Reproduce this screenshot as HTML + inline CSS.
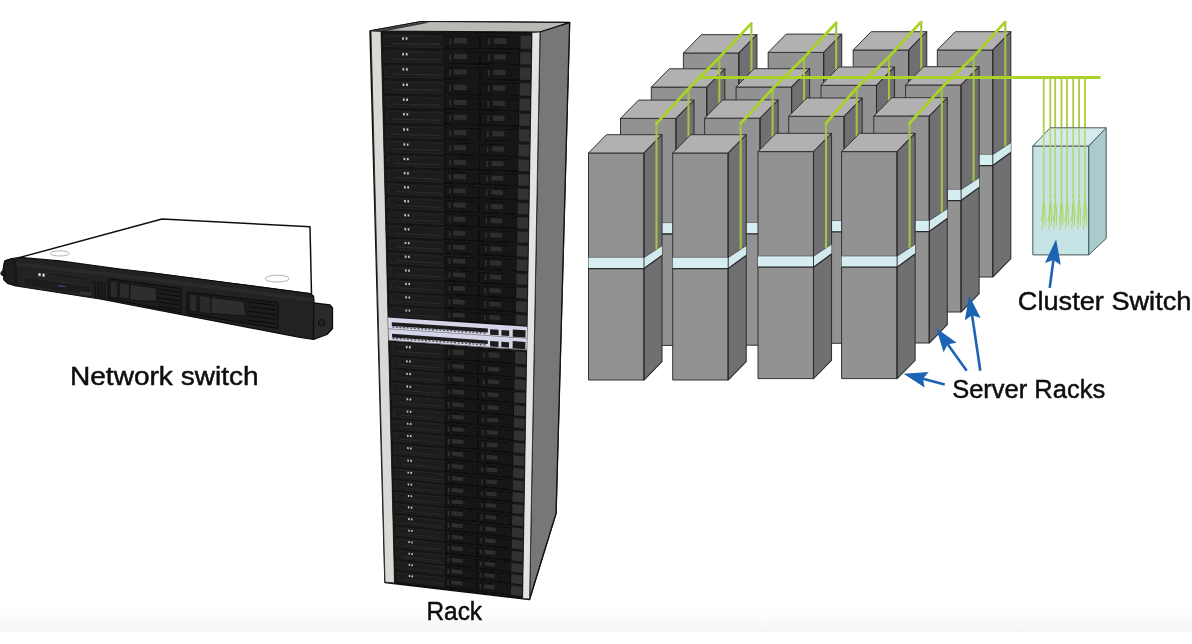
<!DOCTYPE html>
<html><head><meta charset="utf-8"><style>
html,body{margin:0;padding:0;background:#fff;}
body{width:1192px;height:644px;overflow:hidden;font-family:"Liberation Sans",sans-serif;}
svg{display:block;}
</style></head><body>
<svg width="1192" height="644" viewBox="0 0 1192 644">
<defs><filter id="soft" x="0" y="0" width="1" height="1"><feGaussianBlur stdDeviation="0.45"/></filter><linearGradient id="band" x1="0" y1="0" x2="0" y2="1"><stop offset="0" stop-color="#fff"/><stop offset="1" stop-color="#f6f6f6"/></linearGradient></defs>
<rect width="1192" height="644" fill="#fff"/>
<g filter="url(#soft)">
<rect x="0" y="606" width="1192" height="26" fill="url(#band)"/>
<polygon points="20.0,257.4 162.0,219.0 310.0,226.8 311.5,294.0 150.0,273.0 20.0,259.0" fill="#ffffff" stroke="#111" stroke-width="1.5" stroke-linejoin="round" />
<ellipse cx="59.8" cy="253.4" rx="9.5" ry="2.6" fill="none" stroke="#aaa" stroke-width="0.9"/>
<ellipse cx="277.2" cy="278.6" rx="12" ry="3.4" fill="none" stroke="#aaa" stroke-width="0.9"/>
<polygon points="4.7,260.9 12.0,258.5 20.0,257.4 60.0,260.9 120.0,269.0 150.0,272.5 230.0,283.0 310.0,293.5 313.5,296.0 314.0,300.0 313.5,339.5 300.0,337.3 200.0,318.2 100.0,299.0 16.0,286.0 8.0,283.5 4.0,280.0 3.0,270.0" fill="#222" stroke="#0d0d0d" stroke-width="1.2" stroke-linejoin="round" />
<polygon points="4.7,260.9 12.0,258.5 16.0,262.0 16.0,286.0 8.0,283.5 4.0,280.0 3.0,270.0" fill="#1a1a1a" stroke="#0d0d0d" stroke-width="0.8" stroke-linejoin="round" />
<circle cx="3.2" cy="273.3" r="2.4" fill="#1a1a1a" stroke="#0d0d0d" stroke-width="0.8"/>
<polygon points="313.7,302.8 330.0,305.0 332.5,308.0 332.5,328.5 327.0,334.5 313.5,339.5" fill="#2a2a2a" stroke="#0d0d0d" stroke-width="1.3" stroke-linejoin="round" />
<circle cx="321.7" cy="322.8" r="3.3" fill="#222" stroke="#0d0d0d" stroke-width="1"/>
<polygon points="16.0,266.0 150.0,281.0 313.0,302.0 313.0,298.0 150.0,277.0 16.0,262.0" fill="#2a2a2a" />
<polygon points="24.0,277.0 91.0,286.0 91.0,295.5 24.0,286.0" fill="#1b1b1b" stroke="#333" stroke-width="0.6" stroke-linejoin="round" />
<polygon points="38.5,273.0 40.7,273.3 40.7,276.2 38.5,275.9" fill="#e0e0e0" />
<polygon points="42.5,273.5 44.7,273.8 44.7,276.7 42.5,276.4" fill="#e0e0e0" />
<polygon points="48.0,272.0 90.0,277.5 90.0,281.0 48.0,275.5" fill="#1d1d1d" stroke="#333" stroke-width="0.5" stroke-linejoin="round" />
<polygon points="58.0,285.0 66.0,286.0 66.0,287.3 58.0,286.3" fill="#3b4a7a" />
<polygon points="80.0,291.0 91.0,292.5 91.0,296.0 80.0,294.5" fill="#333" />
<polygon points="92.7,281.0 105.5,283.0 105.5,299.5 92.7,297.3" fill="#141414" />
<line x1="93.5" y1="282.0" x2="93.5" y2="297.5" stroke="#2b2b2b" stroke-width="0.8" />
<line x1="96.7" y1="282.5" x2="96.7" y2="298.0" stroke="#2b2b2b" stroke-width="0.8" />
<line x1="99.9" y1="283.0" x2="99.9" y2="298.5" stroke="#2b2b2b" stroke-width="0.8" />
<line x1="103.1" y1="283.5" x2="103.1" y2="299.0" stroke="#2b2b2b" stroke-width="0.8" />
<polygon points="108.4,278.6 181.0,288.5 181.0,312.8 108.4,298.5" fill="#1c1c1c" stroke="#0a0a0a" stroke-width="1" stroke-linejoin="round" />
<polygon points="110.5,281.0 117.5,282.0 117.5,298.0 110.5,297.0" fill="#2a2a2a" stroke="#0a0a0a" stroke-width="0.6" stroke-linejoin="round" />
<polygon points="119.5,282.5 130.0,284.0 130.0,299.5 119.5,298.0" fill="#2a2a2a" stroke="#0a0a0a" stroke-width="0.6" stroke-linejoin="round" />
<polygon points="130.0,284.5 156.0,288.0 157.0,301.5 130.0,300.0" fill="#2e2e2e" stroke="#0a0a0a" stroke-width="0.6" stroke-linejoin="round" />
<line x1="158.0" y1="289.0" x2="180.0" y2="292.2" stroke="#0a0a0a" stroke-width="1" />
<line x1="158.0" y1="293.3" x2="180.0" y2="296.5" stroke="#0a0a0a" stroke-width="1" />
<line x1="158.0" y1="297.6" x2="180.0" y2="300.8" stroke="#0a0a0a" stroke-width="1" />
<line x1="158.0" y1="301.9" x2="180.0" y2="305.1" stroke="#0a0a0a" stroke-width="1" />
<line x1="158.0" y1="306.2" x2="180.0" y2="309.4" stroke="#0a0a0a" stroke-width="1" />
<polygon points="187.2,292.0 278.0,302.5 278.0,328.5 187.2,313.5" fill="#1c1c1c" stroke="#0a0a0a" stroke-width="1" stroke-linejoin="round" />
<polygon points="189.7,294.0 196.8,295.0 196.8,312.0 189.7,311.0" fill="#2a2a2a" stroke="#0a0a0a" stroke-width="0.6" stroke-linejoin="round" />
<polygon points="199.7,295.5 211.0,297.0 211.0,314.0 199.7,312.5" fill="#2a2a2a" stroke="#0a0a0a" stroke-width="0.6" stroke-linejoin="round" />
<polygon points="211.0,297.5 244.0,301.5 246.0,316.0 211.0,313.5" fill="#2e2e2e" stroke="#0a0a0a" stroke-width="0.6" stroke-linejoin="round" />
<line x1="248.0" y1="302.0" x2="276.0" y2="305.5" stroke="#0a0a0a" stroke-width="1" />
<line x1="248.0" y1="306.6" x2="276.0" y2="310.1" stroke="#0a0a0a" stroke-width="1" />
<line x1="248.0" y1="311.2" x2="276.0" y2="314.7" stroke="#0a0a0a" stroke-width="1" />
<line x1="248.0" y1="315.8" x2="276.0" y2="319.3" stroke="#0a0a0a" stroke-width="1" />
<line x1="248.0" y1="320.4" x2="276.0" y2="323.9" stroke="#0a0a0a" stroke-width="1" />
<polygon points="370.0,31.0 422.0,21.5 569.6,22.5 556.0,513.3 529.5,599.5 385.0,582.5" fill="#111" stroke="#111" stroke-width="1.5" stroke-linejoin="round" />
<polygon points="370.0,31.0 422.0,21.5 569.0,22.5 540.0,32.0" fill="#b9b9b6" stroke="#111" stroke-width="1" stroke-linejoin="round" />
<polygon points="372.0,31.0 422.0,22.0 430.0,22.5 385.0,31.3" fill="#3a3a3a" />
<polygon points="540.0,32.0 569.6,22.8 556.0,513.3 529.5,599.2" fill="#777777" stroke="#111" stroke-width="1.2" stroke-linejoin="round" />
<polygon points="371.0,31.0 381.0,31.5 394.5,583.0 385.0,582.0" fill="#d9d9d5" stroke="#222" stroke-width="0.8" stroke-linejoin="round" />
<polygon points="532.0,32.5 540.0,32.0 529.6,599.0 522.6,598.5" fill="#e3e3df" stroke="#222" stroke-width="0.8" stroke-linejoin="round" />
<polygon points="381.0,31.5 532.0,32.5 522.6,598.5 394.5,583.0" fill="#121212" />
<polygon points="382.5,34.1 531.2,35.2 530.9,49.1 382.9,47.6" fill="#1f1f1f" />
<polygon points="385.5,36.1 443.3,36.5 443.4,47.1 385.7,46.5" fill="#1a1a1a" stroke="#2e2e2e" stroke-width="0.5" stroke-linejoin="round" />
<polygon points="391.5,42.9 440.3,43.3 440.3,45.0 391.6,44.5" fill="#2b2b2b" />
<polygon points="402.1,37.2 403.8,37.2 403.9,39.8 402.1,39.8" fill="#c8c8c8" />
<polygon points="405.6,37.2 407.4,37.2 407.4,39.8 405.7,39.8" fill="#c8c8c8" />
<polygon points="443.9,35.7 479.9,36.0 479.8,48.3 444.0,47.9" fill="#161616" stroke="#0a0a0a" stroke-width="0.6" stroke-linejoin="round" />
<polygon points="449.7,38.2 451.2,38.2 451.2,44.7 449.7,44.7" fill="#333" />
<polygon points="454.2,37.9 467.0,38.0 467.1,43.6 454.2,43.5" fill="#2e2e2e" />
<polygon points="480.6,36.0 520.3,36.3 520.1,48.7 480.6,48.3" fill="#161616" stroke="#0a0a0a" stroke-width="0.6" stroke-linejoin="round" />
<polygon points="488.6,38.5 490.2,38.5 490.1,45.1 488.6,45.1" fill="#333" />
<polygon points="494.0,38.2 506.3,38.3 506.2,43.9 494.0,43.8" fill="#2e2e2e" />
<polygon points="520.6,35.8 531.2,35.9 531.0,48.8 520.4,48.7" fill="#303030" />
<polygon points="382.9,50.1 530.9,51.6 530.7,64.7 383.2,62.7" fill="#1f1f1f" />
<polygon points="385.9,51.9 443.3,52.6 443.4,62.5 386.1,61.7" fill="#1a1a1a" stroke="#2e2e2e" stroke-width="0.5" stroke-linejoin="round" />
<polygon points="391.9,58.3 440.4,58.9 440.4,60.4 391.9,59.8" fill="#2b2b2b" />
<polygon points="402.3,53.0 404.0,53.0 404.1,55.5 402.3,55.4" fill="#c8c8c8" />
<polygon points="405.8,53.1 407.5,53.1 407.6,55.5 405.8,55.5" fill="#c8c8c8" />
<polygon points="443.9,51.8 479.8,52.2 479.7,63.7 444.0,63.2" fill="#161616" stroke="#0a0a0a" stroke-width="0.6" stroke-linejoin="round" />
<polygon points="449.6,54.2 451.1,54.2 451.2,60.3 449.7,60.3" fill="#333" />
<polygon points="454.1,53.9 466.9,54.0 466.9,59.2 454.2,59.1" fill="#2e2e2e" />
<polygon points="480.5,52.2 520.0,52.6 519.8,64.2 480.5,63.7" fill="#161616" stroke="#0a0a0a" stroke-width="0.6" stroke-linejoin="round" />
<polygon points="488.4,54.6 489.9,54.6 489.9,60.8 488.3,60.7" fill="#333" />
<polygon points="493.7,54.3 505.9,54.5 505.9,59.7 493.7,59.6" fill="#2e2e2e" />
<polygon points="520.3,52.2 530.9,52.3 530.7,64.4 520.1,64.2" fill="#303030" />
<polygon points="383.3,65.1 530.7,67.1 530.4,80.2 383.6,77.9" fill="#1f1f1f" />
<polygon points="386.2,67.0 443.4,67.8 443.4,77.8 386.5,76.8" fill="#1a1a1a" stroke="#2e2e2e" stroke-width="0.5" stroke-linejoin="round" />
<polygon points="392.2,73.5 440.5,74.2 440.5,75.7 392.2,75.0" fill="#2b2b2b" />
<polygon points="402.5,68.1 404.2,68.2 404.3,70.6 402.5,70.6" fill="#c8c8c8" />
<polygon points="406.0,68.2 407.7,68.2 407.8,70.7 406.0,70.6" fill="#c8c8c8" />
<polygon points="444.0,67.0 479.7,67.5 479.7,79.1 444.1,78.5" fill="#161616" stroke="#0a0a0a" stroke-width="0.6" stroke-linejoin="round" />
<polygon points="449.6,69.4 451.1,69.5 451.1,75.6 449.6,75.6" fill="#333" />
<polygon points="454.0,69.2 466.8,69.4 466.8,74.6 454.1,74.4" fill="#2e2e2e" />
<polygon points="480.4,67.5 519.7,68.1 519.5,79.8 480.4,79.1" fill="#161616" stroke="#0a0a0a" stroke-width="0.6" stroke-linejoin="round" />
<polygon points="488.1,70.0 489.6,70.0 489.6,76.2 488.1,76.2" fill="#333" />
<polygon points="493.4,69.7 505.6,69.9 505.5,75.2 493.4,75.0" fill="#2e2e2e" />
<polygon points="520.0,67.6 530.6,67.8 530.4,79.9 519.9,79.8" fill="#303030" />
<polygon points="383.6,80.3 530.4,82.8 530.2,96.0 383.9,93.2" fill="#1f1f1f" />
<polygon points="386.6,82.2 443.4,83.2 443.5,93.3 386.8,92.2" fill="#1a1a1a" stroke="#2e2e2e" stroke-width="0.5" stroke-linejoin="round" />
<polygon points="392.5,88.7 440.5,89.6 440.5,91.2 392.5,90.3" fill="#2b2b2b" />
<polygon points="402.6,83.4 404.4,83.4 404.4,85.9 402.7,85.9" fill="#c8c8c8" />
<polygon points="406.1,83.5 407.9,83.5 407.9,86.0 406.2,85.9" fill="#c8c8c8" />
<polygon points="444.0,82.4 479.6,83.0 479.6,94.7 444.1,94.0" fill="#161616" stroke="#0a0a0a" stroke-width="0.6" stroke-linejoin="round" />
<polygon points="449.5,84.8 451.0,84.9 451.0,91.1 449.5,91.0" fill="#333" />
<polygon points="454.0,84.6 466.6,84.8 466.6,90.1 454.0,89.9" fill="#2e2e2e" />
<polygon points="480.3,83.0 519.4,83.7 519.3,95.5 480.3,94.7" fill="#161616" stroke="#0a0a0a" stroke-width="0.6" stroke-linejoin="round" />
<polygon points="487.9,85.5 489.4,85.5 489.3,91.8 487.8,91.8" fill="#333" />
<polygon points="493.1,85.3 505.3,85.5 505.2,90.8 493.1,90.6" fill="#2e2e2e" />
<polygon points="519.7,83.2 530.4,83.4 530.2,95.7 519.6,95.5" fill="#303030" />
<polygon points="384.0,95.6 530.1,98.5 529.9,110.9 384.3,107.6" fill="#1f1f1f" />
<polygon points="386.9,97.3 443.5,98.5 443.5,107.9 387.1,106.7" fill="#1a1a1a" stroke="#2e2e2e" stroke-width="0.5" stroke-linejoin="round" />
<polygon points="392.8,103.5 440.6,104.5 440.6,106.0 392.9,104.9" fill="#2b2b2b" />
<polygon points="402.8,98.5 404.6,98.6 404.6,100.9 402.9,100.8" fill="#c8c8c8" />
<polygon points="406.3,98.6 408.0,98.6 408.1,100.9 406.3,100.9" fill="#c8c8c8" />
<polygon points="444.1,97.8 479.5,98.5 479.5,109.4 444.1,108.7" fill="#161616" stroke="#0a0a0a" stroke-width="0.6" stroke-linejoin="round" />
<polygon points="449.4,100.1 450.9,100.1 451.0,105.9 449.5,105.9" fill="#333" />
<polygon points="453.9,99.9 466.5,100.1 466.5,105.1 453.9,104.8" fill="#2e2e2e" />
<polygon points="480.3,98.5 519.2,99.3 519.0,110.3 480.2,109.5" fill="#161616" stroke="#0a0a0a" stroke-width="0.6" stroke-linejoin="round" />
<polygon points="487.6,100.8 489.1,100.9 489.1,106.7 487.6,106.7" fill="#333" />
<polygon points="492.9,100.7 504.9,100.9 504.9,105.9 492.8,105.6" fill="#2e2e2e" />
<polygon points="519.5,98.8 530.1,99.1 529.9,110.6 519.3,110.3" fill="#303030" />
<polygon points="384.4,110.0 529.9,113.3 529.7,126.3 384.7,122.6" fill="#1f1f1f" />
<polygon points="387.3,111.8 443.5,113.1 443.6,123.0 387.5,121.6" fill="#1a1a1a" stroke="#2e2e2e" stroke-width="0.5" stroke-linejoin="round" />
<polygon points="393.2,118.3 440.6,119.5 440.6,121.0 393.2,119.8" fill="#2b2b2b" />
<polygon points="403.0,113.1 404.7,113.1 404.8,115.6 403.1,115.5" fill="#c8c8c8" />
<polygon points="406.4,113.2 408.2,113.2 408.2,115.6 406.5,115.6" fill="#c8c8c8" />
<polygon points="444.1,112.4 479.4,113.2 479.4,124.7 444.2,123.8" fill="#161616" stroke="#0a0a0a" stroke-width="0.6" stroke-linejoin="round" />
<polygon points="449.4,114.8 450.9,114.8 450.9,120.9 449.4,120.9" fill="#333" />
<polygon points="453.8,114.6 466.4,114.9 466.4,120.1 453.8,119.8" fill="#2e2e2e" />
<polygon points="480.2,113.2 518.9,114.1 518.8,125.7 480.1,124.7" fill="#161616" stroke="#0a0a0a" stroke-width="0.6" stroke-linejoin="round" />
<polygon points="487.4,115.7 488.9,115.7 488.8,121.9 487.3,121.8" fill="#333" />
<polygon points="492.6,115.5 504.6,115.8 504.6,121.0 492.6,120.7" fill="#2e2e2e" />
<polygon points="519.2,113.7 529.9,113.9 529.7,126.0 519.1,125.7" fill="#303030" />
<polygon points="384.7,125.0 529.6,128.8 529.4,141.9 385.0,137.7" fill="#1f1f1f" />
<polygon points="387.6,126.9 443.5,128.4 443.6,138.3 387.8,136.7" fill="#1a1a1a" stroke="#2e2e2e" stroke-width="0.5" stroke-linejoin="round" />
<polygon points="393.5,133.4 440.7,134.7 440.7,136.3 393.5,134.9" fill="#2b2b2b" />
<polygon points="403.2,128.2 404.9,128.3 405.0,130.7 403.2,130.7" fill="#c8c8c8" />
<polygon points="406.6,128.3 408.3,128.4 408.4,130.8 406.7,130.7" fill="#c8c8c8" />
<polygon points="444.2,127.6 479.3,128.5 479.3,140.1 444.2,139.1" fill="#161616" stroke="#0a0a0a" stroke-width="0.6" stroke-linejoin="round" />
<polygon points="449.3,130.1 450.8,130.1 450.8,136.2 449.4,136.2" fill="#333" />
<polygon points="453.7,129.9 466.2,130.2 466.2,135.4 453.7,135.1" fill="#2e2e2e" />
<polygon points="480.1,128.6 518.6,129.6 518.5,141.2 480.0,140.1" fill="#161616" stroke="#0a0a0a" stroke-width="0.6" stroke-linejoin="round" />
<polygon points="487.1,131.1 488.6,131.1 488.6,137.3 487.1,137.3" fill="#333" />
<polygon points="492.3,130.9 504.3,131.2 504.2,136.5 492.3,136.2" fill="#2e2e2e" />
<polygon points="518.9,129.1 529.6,129.4 529.4,141.5 518.8,141.2" fill="#303030" />
<polygon points="385.1,140.1 529.4,144.3 529.2,157.0 385.4,152.4" fill="#1f1f1f" />
<polygon points="388.0,141.9 443.6,143.6 443.7,153.2 388.2,151.5" fill="#1a1a1a" stroke="#2e2e2e" stroke-width="0.5" stroke-linejoin="round" />
<polygon points="393.8,148.3 440.7,149.7 440.7,151.2 393.8,149.7" fill="#2b2b2b" />
<polygon points="403.4,143.3 405.1,143.3 405.2,145.7 403.4,145.6" fill="#c8c8c8" />
<polygon points="406.8,143.4 408.5,143.4 408.5,145.8 406.8,145.7" fill="#c8c8c8" />
<polygon points="444.2,142.9 479.2,143.9 479.2,155.1 444.3,154.0" fill="#161616" stroke="#0a0a0a" stroke-width="0.6" stroke-linejoin="round" />
<polygon points="449.3,145.2 450.7,145.3 450.8,151.2 449.3,151.2" fill="#333" />
<polygon points="453.6,145.1 466.1,145.4 466.1,150.5 453.7,150.1" fill="#2e2e2e" />
<polygon points="480.0,143.9 518.4,145.0 518.2,156.3 479.9,155.1" fill="#161616" stroke="#0a0a0a" stroke-width="0.6" stroke-linejoin="round" />
<polygon points="486.9,146.4 488.3,146.4 488.3,152.4 486.8,152.3" fill="#333" />
<polygon points="492.1,146.2 504.0,146.6 503.9,151.7 492.0,151.3" fill="#2e2e2e" />
<polygon points="518.7,144.6 529.4,144.9 529.2,156.7 518.5,156.3" fill="#303030" />
<polygon points="385.4,154.7 529.1,159.3 528.9,171.5 385.7,166.6" fill="#1f1f1f" />
<polygon points="388.3,156.5 443.6,158.3 443.7,167.6 388.5,165.7" fill="#1a1a1a" stroke="#2e2e2e" stroke-width="0.5" stroke-linejoin="round" />
<polygon points="394.1,162.6 440.8,164.2 440.8,165.6 394.1,164.0" fill="#2b2b2b" />
<polygon points="403.6,157.8 405.3,157.9 405.3,160.2 403.6,160.1" fill="#c8c8c8" />
<polygon points="406.9,158.0 408.7,158.0 408.7,160.3 407.0,160.2" fill="#c8c8c8" />
<polygon points="444.2,157.6 479.1,158.7 479.1,169.5 444.3,168.3" fill="#161616" stroke="#0a0a0a" stroke-width="0.6" stroke-linejoin="round" />
<polygon points="449.2,159.9 450.7,160.0 450.7,165.7 449.2,165.6" fill="#333" />
<polygon points="453.6,159.8 466.0,160.2 466.0,165.1 453.6,164.6" fill="#2e2e2e" />
<polygon points="479.9,158.8 518.1,160.0 518.0,170.9 479.9,169.6" fill="#161616" stroke="#0a0a0a" stroke-width="0.6" stroke-linejoin="round" />
<polygon points="486.6,161.1 488.1,161.2 488.1,167.0 486.6,166.9" fill="#333" />
<polygon points="491.8,161.0 503.7,161.4 503.6,166.3 491.8,165.9" fill="#2e2e2e" />
<polygon points="518.4,159.6 529.1,159.9 528.9,171.3 518.3,170.9" fill="#303030" />
<polygon points="385.8,168.8 528.9,173.9 528.7,186.1 386.1,180.7" fill="#1f1f1f" />
<polygon points="388.6,170.6 443.7,172.6 443.8,181.9 388.8,179.8" fill="#1a1a1a" stroke="#2e2e2e" stroke-width="0.5" stroke-linejoin="round" />
<polygon points="394.4,176.8 440.8,178.5 440.9,179.9 394.5,178.2" fill="#2b2b2b" />
<polygon points="403.7,172.0 405.5,172.1 405.5,174.4 403.8,174.3" fill="#c8c8c8" />
<polygon points="407.1,172.2 408.8,172.2 408.8,174.5 407.1,174.4" fill="#c8c8c8" />
<polygon points="444.3,171.9 479.1,173.1 479.0,183.9 444.4,182.6" fill="#161616" stroke="#0a0a0a" stroke-width="0.6" stroke-linejoin="round" />
<polygon points="449.1,174.2 450.6,174.3 450.6,180.0 449.2,180.0" fill="#333" />
<polygon points="453.5,174.1 465.8,174.5 465.9,179.4 453.5,179.0" fill="#2e2e2e" />
<polygon points="479.8,173.2 517.9,174.5 517.7,185.4 479.8,184.0" fill="#161616" stroke="#0a0a0a" stroke-width="0.6" stroke-linejoin="round" />
<polygon points="486.4,175.6 487.9,175.6 487.8,181.4 486.4,181.3" fill="#333" />
<polygon points="491.5,175.5 503.3,175.9 503.3,180.8 491.5,180.4" fill="#2e2e2e" />
<polygon points="518.2,174.1 528.9,174.5 528.7,185.8 518.0,185.4" fill="#303030" />
<polygon points="386.1,183.0 528.7,188.4 528.5,200.3 386.4,194.6" fill="#1f1f1f" />
<polygon points="389.0,184.7 443.7,186.8 443.8,195.9 389.2,193.7" fill="#1a1a1a" stroke="#2e2e2e" stroke-width="0.5" stroke-linejoin="round" />
<polygon points="394.7,190.8 440.9,192.6 440.9,194.0 394.8,192.2" fill="#2b2b2b" />
<polygon points="403.9,186.1 405.6,186.2 405.7,188.4 404.0,188.4" fill="#c8c8c8" />
<polygon points="407.2,186.3 409.0,186.3 409.0,188.6 407.3,188.5" fill="#c8c8c8" />
<polygon points="444.3,186.2 479.0,187.5 479.0,198.1 444.4,196.7" fill="#161616" stroke="#0a0a0a" stroke-width="0.6" stroke-linejoin="round" />
<polygon points="449.1,188.5 450.5,188.5 450.6,194.1 449.1,194.1" fill="#333" />
<polygon points="453.4,188.3 465.7,188.8 465.7,193.6 453.4,193.1" fill="#2e2e2e" />
<polygon points="479.7,187.5 517.6,189.0 517.5,199.6 479.7,198.1" fill="#161616" stroke="#0a0a0a" stroke-width="0.6" stroke-linejoin="round" />
<polygon points="486.2,189.9 487.6,189.9 487.6,195.6 486.1,195.5" fill="#333" />
<polygon points="491.3,189.8 503.0,190.3 503.0,195.1 491.3,194.6" fill="#2e2e2e" />
<polygon points="517.9,188.6 528.7,189.0 528.5,200.1 517.8,199.6" fill="#303030" />
<polygon points="386.4,196.8 528.4,202.6 528.2,214.7 386.7,208.5" fill="#1f1f1f" />
<polygon points="389.3,198.6 443.8,200.9 443.8,210.0 389.5,207.7" fill="#1a1a1a" stroke="#2e2e2e" stroke-width="0.5" stroke-linejoin="round" />
<polygon points="395.0,204.7 441.0,206.7 441.0,208.1 395.1,206.1" fill="#2b2b2b" />
<polygon points="404.1,200.1 405.8,200.1 405.8,202.4 404.1,202.3" fill="#c8c8c8" />
<polygon points="407.4,200.2 409.1,200.3 409.1,202.5 407.4,202.4" fill="#c8c8c8" />
<polygon points="444.4,200.2 478.9,201.6 478.9,212.2 444.5,210.8" fill="#161616" stroke="#0a0a0a" stroke-width="0.6" stroke-linejoin="round" />
<polygon points="449.0,202.5 450.5,202.6 450.5,208.2 449.1,208.1" fill="#333" />
<polygon points="453.3,202.4 465.6,202.9 465.6,207.7 453.4,207.2" fill="#2e2e2e" />
<polygon points="479.6,201.6 517.4,203.2 517.2,213.9 479.6,212.3" fill="#161616" stroke="#0a0a0a" stroke-width="0.6" stroke-linejoin="round" />
<polygon points="485.9,204.0 487.4,204.1 487.4,209.8 485.9,209.7" fill="#333" />
<polygon points="491.0,204.0 502.7,204.4 502.7,209.3 491.0,208.8" fill="#2e2e2e" />
<polygon points="517.7,202.8 528.4,203.2 528.2,214.4 517.5,213.9" fill="#303030" />
<polygon points="386.8,210.8 528.2,217.0 528.0,229.0 387.1,222.5" fill="#1f1f1f" />
<polygon points="389.6,212.6 443.8,215.0 443.9,224.1 389.8,221.6" fill="#1a1a1a" stroke="#2e2e2e" stroke-width="0.5" stroke-linejoin="round" />
<polygon points="395.3,218.7 441.0,220.8 441.0,222.2 395.4,220.1" fill="#2b2b2b" />
<polygon points="404.3,214.1 406.0,214.1 406.0,216.4 404.3,216.3" fill="#c8c8c8" />
<polygon points="407.6,214.2 409.2,214.3 409.3,216.5 407.6,216.4" fill="#c8c8c8" />
<polygon points="444.4,214.3 478.8,215.8 478.8,226.4 444.5,224.9" fill="#161616" stroke="#0a0a0a" stroke-width="0.6" stroke-linejoin="round" />
<polygon points="449.0,216.6 450.4,216.7 450.4,222.3 449.0,222.3" fill="#333" />
<polygon points="453.3,216.5 465.5,217.1 465.5,221.9 453.3,221.3" fill="#2e2e2e" />
<polygon points="479.5,215.8 517.1,217.5 517.0,228.2 479.5,226.5" fill="#161616" stroke="#0a0a0a" stroke-width="0.6" stroke-linejoin="round" />
<polygon points="485.7,218.2 487.1,218.3 487.1,224.0 485.7,223.9" fill="#333" />
<polygon points="490.8,218.2 502.4,218.7 502.4,223.5 490.7,223.0" fill="#2e2e2e" />
<polygon points="517.4,217.1 528.2,217.5 528.0,228.7 517.3,228.2" fill="#303030" />
<polygon points="387.1,224.7 528.0,231.3 527.8,243.3 387.4,236.4" fill="#1f1f1f" />
<polygon points="389.9,226.5 443.8,229.1 443.9,238.2 390.1,235.6" fill="#1a1a1a" stroke="#2e2e2e" stroke-width="0.5" stroke-linejoin="round" />
<polygon points="395.6,232.7 441.1,234.8 441.1,236.3 395.7,234.0" fill="#2b2b2b" />
<polygon points="404.4,228.0 406.1,228.1 406.2,230.4 404.5,230.3" fill="#c8c8c8" />
<polygon points="407.7,228.2 409.4,228.3 409.4,230.5 407.8,230.4" fill="#c8c8c8" />
<polygon points="444.5,228.4 478.7,230.0 478.7,240.6 444.5,239.0" fill="#161616" stroke="#0a0a0a" stroke-width="0.6" stroke-linejoin="round" />
<polygon points="448.9,230.7 450.3,230.8 450.4,236.4 449.0,236.4" fill="#333" />
<polygon points="453.2,230.6 465.3,231.2 465.4,236.0 453.2,235.4" fill="#2e2e2e" />
<polygon points="479.5,230.0 516.9,231.8 516.7,242.5 479.4,240.7" fill="#161616" stroke="#0a0a0a" stroke-width="0.6" stroke-linejoin="round" />
<polygon points="485.5,232.4 486.9,232.5 486.9,238.2 485.4,238.1" fill="#333" />
<polygon points="490.5,232.4 502.1,232.9 502.1,237.8 490.5,237.2" fill="#2e2e2e" />
<polygon points="517.2,231.4 528.0,231.9 527.8,243.0 517.0,242.5" fill="#303030" />
<polygon points="387.5,238.6 527.7,245.6 527.5,257.2 387.7,249.9" fill="#1f1f1f" />
<polygon points="390.3,240.4 443.9,243.1 444.0,251.9 390.5,249.1" fill="#1a1a1a" stroke="#2e2e2e" stroke-width="0.5" stroke-linejoin="round" />
<polygon points="395.9,246.3 441.1,248.6 441.1,250.0 396.0,247.7" fill="#2b2b2b" />
<polygon points="404.6,241.9 406.3,242.0 406.3,244.1 404.7,244.1" fill="#c8c8c8" />
<polygon points="407.9,242.1 409.5,242.1 409.6,244.3 407.9,244.2" fill="#c8c8c8" />
<polygon points="444.5,242.4 478.6,244.1 478.6,254.4 444.6,252.6" fill="#161616" stroke="#0a0a0a" stroke-width="0.6" stroke-linejoin="round" />
<polygon points="448.9,244.7 450.3,244.7 450.3,250.2 448.9,250.1" fill="#333" />
<polygon points="453.1,244.6 465.2,245.2 465.2,249.9 453.1,249.2" fill="#2e2e2e" />
<polygon points="479.4,244.1 516.6,246.0 516.5,256.3 479.3,254.4" fill="#161616" stroke="#0a0a0a" stroke-width="0.6" stroke-linejoin="round" />
<polygon points="485.2,246.5 486.7,246.6 486.6,252.0 485.2,252.0" fill="#333" />
<polygon points="490.3,246.5 501.8,247.1 501.8,251.7 490.2,251.1" fill="#2e2e2e" />
<polygon points="516.9,245.6 527.7,246.1 527.5,256.9 516.8,256.3" fill="#303030" />
<polygon points="387.8,252.1 527.5,259.4 527.3,271.5 388.1,263.8" fill="#1f1f1f" />
<polygon points="390.6,253.9 443.9,256.7 444.0,265.9 390.8,263.0" fill="#1a1a1a" stroke="#2e2e2e" stroke-width="0.5" stroke-linejoin="round" />
<polygon points="396.2,260.1 441.2,262.5 441.2,263.9 396.3,261.5" fill="#2b2b2b" />
<polygon points="404.8,255.5 406.4,255.6 406.5,257.9 404.8,257.8" fill="#c8c8c8" />
<polygon points="408.0,255.7 409.7,255.8 409.7,258.0 408.1,257.9" fill="#c8c8c8" />
<polygon points="444.5,256.1 478.6,257.9 478.5,268.5 444.6,266.6" fill="#161616" stroke="#0a0a0a" stroke-width="0.6" stroke-linejoin="round" />
<polygon points="448.8,258.4 450.2,258.5 450.2,264.1 448.8,264.1" fill="#333" />
<polygon points="453.0,258.4 465.1,259.0 465.1,263.8 453.1,263.2" fill="#2e2e2e" />
<polygon points="479.3,257.9 516.4,259.9 516.2,270.6 479.3,268.5" fill="#161616" stroke="#0a0a0a" stroke-width="0.6" stroke-linejoin="round" />
<polygon points="485.0,260.3 486.4,260.4 486.4,266.1 485.0,266.0" fill="#333" />
<polygon points="490.0,260.3 501.5,260.9 501.5,265.8 490.0,265.2" fill="#2e2e2e" />
<polygon points="516.7,259.4 527.5,260.0 527.3,271.2 516.5,270.6" fill="#303030" />
<polygon points="388.1,266.0 527.3,273.7 527.1,285.3 388.4,277.3" fill="#1f1f1f" />
<polygon points="390.9,267.8 444.0,270.7 444.0,279.6 391.1,276.5" fill="#1a1a1a" stroke="#2e2e2e" stroke-width="0.5" stroke-linejoin="round" />
<polygon points="396.5,273.8 441.2,276.3 441.2,277.7 396.6,275.1" fill="#2b2b2b" />
<polygon points="405.0,269.4 406.6,269.5 406.7,271.6 405.0,271.5" fill="#c8c8c8" />
<polygon points="408.2,269.6 409.8,269.7 409.9,271.8 408.2,271.7" fill="#c8c8c8" />
<polygon points="444.6,270.1 478.5,272.0 478.5,282.2 444.7,280.3" fill="#161616" stroke="#0a0a0a" stroke-width="0.6" stroke-linejoin="round" />
<polygon points="448.7,272.4 450.2,272.4 450.2,277.9 448.8,277.8" fill="#333" />
<polygon points="453.0,272.3 465.0,273.0 465.0,277.6 453.0,277.0" fill="#2e2e2e" />
<polygon points="479.2,272.0 516.1,274.1 516.0,284.4 479.2,282.3" fill="#161616" stroke="#0a0a0a" stroke-width="0.6" stroke-linejoin="round" />
<polygon points="484.8,274.4 486.2,274.5 486.2,279.9 484.7,279.9" fill="#333" />
<polygon points="489.8,274.4 501.2,275.0 501.2,279.7 489.7,279.1" fill="#2e2e2e" />
<polygon points="516.4,273.7 527.3,274.3 527.1,285.0 516.3,284.4" fill="#303030" />
<polygon points="388.4,279.5 527.0,287.5 526.9,298.9 388.7,290.6" fill="#1f1f1f" />
<polygon points="391.2,281.2 444.0,284.3 444.1,293.0 391.4,289.8" fill="#1a1a1a" stroke="#2e2e2e" stroke-width="0.5" stroke-linejoin="round" />
<polygon points="396.8,287.1 441.3,289.8 441.3,291.1 396.8,288.4" fill="#2b2b2b" />
<polygon points="405.1,282.8 406.8,282.9 406.8,285.0 405.2,284.9" fill="#c8c8c8" />
<polygon points="408.3,283.0 410.0,283.1 410.0,285.2 408.4,285.1" fill="#c8c8c8" />
<polygon points="444.6,283.7 478.4,285.6 478.4,295.7 444.7,293.7" fill="#161616" stroke="#0a0a0a" stroke-width="0.6" stroke-linejoin="round" />
<polygon points="448.7,285.9 450.1,286.0 450.1,291.4 448.7,291.3" fill="#333" />
<polygon points="452.9,285.9 464.9,286.6 464.9,291.2 452.9,290.4" fill="#2e2e2e" />
<polygon points="479.1,285.7 515.9,287.8 515.8,298.0 479.1,295.8" fill="#161616" stroke="#0a0a0a" stroke-width="0.6" stroke-linejoin="round" />
<polygon points="484.5,288.0 486.0,288.1 485.9,293.5 484.5,293.4" fill="#333" />
<polygon points="489.5,288.0 501.0,288.7 500.9,293.3 489.5,292.6" fill="#2e2e2e" />
<polygon points="516.2,287.4 527.0,288.1 526.9,298.7 516.0,298.0" fill="#303030" />
<polygon points="388.8,292.7 526.8,301.1 526.6,312.7 389.0,304.0" fill="#1f1f1f" />
<polygon points="391.5,294.5 444.1,297.7 444.1,306.6 391.7,303.2" fill="#1a1a1a" stroke="#2e2e2e" stroke-width="0.5" stroke-linejoin="round" />
<polygon points="397.1,300.5 441.3,303.3 441.3,304.6 397.1,301.8" fill="#2b2b2b" />
<polygon points="405.3,296.2 406.9,296.3 407.0,298.4 405.3,298.3" fill="#c8c8c8" />
<polygon points="408.5,296.4 410.1,296.5 410.1,298.6 408.5,298.5" fill="#c8c8c8" />
<polygon points="444.7,297.1 478.3,299.1 478.3,309.4 444.7,307.3" fill="#161616" stroke="#0a0a0a" stroke-width="0.6" stroke-linejoin="round" />
<polygon points="448.6,299.4 450.0,299.4 450.1,304.9 448.7,304.8" fill="#333" />
<polygon points="452.8,299.3 464.7,300.1 464.7,304.7 452.8,304.0" fill="#2e2e2e" />
<polygon points="479.0,299.2 515.6,301.4 515.5,311.7 479.0,309.4" fill="#161616" stroke="#0a0a0a" stroke-width="0.6" stroke-linejoin="round" />
<polygon points="484.3,301.6 485.7,301.6 485.7,307.1 484.3,307.0" fill="#333" />
<polygon points="489.3,301.6 500.7,302.3 500.6,307.0 489.3,306.2" fill="#2e2e2e" />
<polygon points="515.9,301.0 526.8,301.7 526.6,312.4 515.8,311.8" fill="#303030" />
<polygon points="389.1,306.1 526.6,314.8 526.4,325.7 389.3,316.6" fill="#1f1f1f" />
<polygon points="391.8,307.8 444.1,311.1 444.2,319.4 392.0,315.9" fill="#1a1a1a" stroke="#2e2e2e" stroke-width="0.5" stroke-linejoin="round" />
<polygon points="397.4,313.4 441.4,316.3 441.4,317.5 397.4,314.7" fill="#2b2b2b" />
<polygon points="405.5,309.4 407.1,309.5 407.1,311.5 405.5,311.4" fill="#c8c8c8" />
<polygon points="408.6,309.6 410.2,309.7 410.3,311.7 408.6,311.6" fill="#c8c8c8" />
<polygon points="444.7,310.5 478.2,312.7 478.2,322.2 444.8,320.0" fill="#161616" stroke="#0a0a0a" stroke-width="0.6" stroke-linejoin="round" />
<polygon points="448.6,312.7 450.0,312.8 450.0,317.9 448.6,317.8" fill="#333" />
<polygon points="452.8,312.7 464.6,313.5 464.6,317.8 452.8,317.0" fill="#2e2e2e" />
<polygon points="478.9,312.7 515.4,315.0 515.3,324.7 478.9,322.3" fill="#161616" stroke="#0a0a0a" stroke-width="0.6" stroke-linejoin="round" />
<polygon points="484.1,315.0 485.5,315.1 485.5,320.2 484.1,320.1" fill="#333" />
<polygon points="489.1,315.0 500.4,315.8 500.3,320.1 489.0,319.4" fill="#2e2e2e" />
<polygon points="515.7,314.7 526.6,315.4 526.4,325.4 515.6,324.7" fill="#303030" />
<polygon points="389.9,341.9 526.0,351.5 525.8,364.6 390.2,354.6" fill="#1f1f1f" />
<polygon points="392.7,343.9 444.2,347.6 444.3,357.5 392.9,353.7" fill="#1a1a1a" stroke="#2e2e2e" stroke-width="0.5" stroke-linejoin="round" />
<polygon points="398.2,350.7 441.5,353.8 441.5,355.3 398.2,352.2" fill="#2b2b2b" />
<polygon points="405.9,345.8 407.5,345.9 407.6,348.3 405.9,348.2" fill="#c8c8c8" />
<polygon points="409.0,346.0 410.6,346.1 410.7,348.5 409.0,348.4" fill="#c8c8c8" />
<polygon points="444.8,346.9 478.0,349.2 478.0,360.8 444.9,358.3" fill="#161616" stroke="#0a0a0a" stroke-width="0.6" stroke-linejoin="round" />
<polygon points="448.4,349.4 449.8,349.5 449.8,355.6 448.5,355.5" fill="#333" />
<polygon points="452.6,349.4 464.3,350.2 464.3,355.5 452.6,354.6" fill="#2e2e2e" />
<polygon points="478.7,349.3 514.8,351.8 514.6,363.5 478.7,360.8" fill="#161616" stroke="#0a0a0a" stroke-width="0.6" stroke-linejoin="round" />
<polygon points="483.5,351.9 484.9,352.0 484.9,358.2 483.5,358.1" fill="#333" />
<polygon points="488.4,352.0 499.6,352.8 499.5,358.0 488.4,357.2" fill="#2e2e2e" />
<polygon points="515.1,351.4 526.0,352.2 525.8,364.3 514.9,363.5" fill="#303030" />
<polygon points="390.3,356.8 525.7,366.9 525.6,377.6 390.5,367.3" fill="#1f1f1f" />
<polygon points="393.0,358.5 444.2,362.3 444.3,370.5 393.2,366.6" fill="#1a1a1a" stroke="#2e2e2e" stroke-width="0.5" stroke-linejoin="round" />
<polygon points="398.5,364.1 441.6,367.4 441.6,368.7 398.5,365.4" fill="#2b2b2b" />
<polygon points="406.1,360.2 407.7,360.4 407.7,362.4 406.1,362.2" fill="#c8c8c8" />
<polygon points="409.2,360.5 410.8,360.6 410.8,362.6 409.2,362.5" fill="#c8c8c8" />
<polygon points="444.9,361.7 477.9,364.2 477.9,373.7 444.9,371.2" fill="#161616" stroke="#0a0a0a" stroke-width="0.6" stroke-linejoin="round" />
<polygon points="448.4,363.9 449.7,364.0 449.8,369.0 448.4,368.9" fill="#333" />
<polygon points="452.5,363.9 464.2,364.8 464.2,369.1 452.5,368.2" fill="#2e2e2e" />
<polygon points="478.6,364.2 514.5,366.9 514.4,376.5 478.6,373.7" fill="#161616" stroke="#0a0a0a" stroke-width="0.6" stroke-linejoin="round" />
<polygon points="483.3,366.5 484.7,366.6 484.6,371.7 483.2,371.6" fill="#333" />
<polygon points="488.1,366.6 499.3,367.4 499.2,371.8 488.1,370.9" fill="#2e2e2e" />
<polygon points="514.8,366.6 525.7,367.4 525.6,377.3 514.7,376.5" fill="#303030" />
<polygon points="390.6,369.3 525.5,379.6 525.4,390.5 390.9,379.9" fill="#1f1f1f" />
<polygon points="393.3,371.0 444.3,374.9 444.3,383.2 393.5,379.2" fill="#1a1a1a" stroke="#2e2e2e" stroke-width="0.5" stroke-linejoin="round" />
<polygon points="398.8,376.7 441.6,380.1 441.6,381.4 398.8,378.0" fill="#2b2b2b" />
<polygon points="406.2,372.8 407.8,372.9 407.9,374.9 406.3,374.8" fill="#c8c8c8" />
<polygon points="409.3,373.0 410.9,373.1 411.0,375.2 409.3,375.0" fill="#c8c8c8" />
<polygon points="444.9,374.3 477.9,376.9 477.8,386.5 445.0,383.9" fill="#161616" stroke="#0a0a0a" stroke-width="0.6" stroke-linejoin="round" />
<polygon points="448.3,376.5 449.7,376.6 449.7,381.8 448.4,381.6" fill="#333" />
<polygon points="452.4,376.6 464.1,377.5 464.1,381.9 452.4,380.9" fill="#2e2e2e" />
<polygon points="478.6,376.9 514.3,379.7 514.2,389.4 478.5,386.6" fill="#161616" stroke="#0a0a0a" stroke-width="0.6" stroke-linejoin="round" />
<polygon points="483.1,379.2 484.4,379.3 484.4,384.5 483.0,384.4" fill="#333" />
<polygon points="487.9,379.3 499.0,380.2 499.0,384.6 487.9,383.7" fill="#2e2e2e" />
<polygon points="514.6,379.3 525.5,380.2 525.4,390.3 514.4,389.4" fill="#303030" />
<polygon points="390.9,381.9 525.3,392.6 525.1,403.6 391.2,392.7" fill="#1f1f1f" />
<polygon points="393.6,383.7 444.3,387.7 444.4,396.1 393.8,392.0" fill="#1a1a1a" stroke="#2e2e2e" stroke-width="0.5" stroke-linejoin="round" />
<polygon points="399.0,389.5 441.7,392.9 441.7,394.2 399.1,390.8" fill="#2b2b2b" />
<polygon points="406.4,385.5 408.0,385.6 408.0,387.7 406.4,387.5" fill="#c8c8c8" />
<polygon points="409.4,385.7 411.0,385.9 411.1,387.9 409.5,387.8" fill="#c8c8c8" />
<polygon points="444.9,387.1 477.8,389.8 477.8,399.5 445.0,396.8" fill="#161616" stroke="#0a0a0a" stroke-width="0.6" stroke-linejoin="round" />
<polygon points="448.3,389.3 449.6,389.4 449.7,394.6 448.3,394.5" fill="#333" />
<polygon points="452.3,389.4 463.9,390.3 463.9,394.7 452.4,393.8" fill="#2e2e2e" />
<polygon points="478.5,389.8 514.1,392.6 513.9,402.4 478.5,399.5" fill="#161616" stroke="#0a0a0a" stroke-width="0.6" stroke-linejoin="round" />
<polygon points="482.8,392.1 484.2,392.2 484.2,397.4 482.8,397.3" fill="#333" />
<polygon points="487.7,392.2 498.7,393.1 498.7,397.5 487.6,396.6" fill="#2e2e2e" />
<polygon points="514.3,392.3 525.3,393.1 525.1,403.3 514.2,402.4" fill="#303030" />
<polygon points="391.2,394.7 525.1,405.7 524.9,416.4 391.5,405.1" fill="#1f1f1f" />
<polygon points="393.9,396.4 444.4,400.5 444.4,408.7 394.1,404.5" fill="#1a1a1a" stroke="#2e2e2e" stroke-width="0.5" stroke-linejoin="round" />
<polygon points="399.3,402.1 441.7,405.6 441.7,406.9 399.3,403.3" fill="#2b2b2b" />
<polygon points="406.6,398.2 408.2,398.3 408.2,400.3 406.6,400.2" fill="#c8c8c8" />
<polygon points="409.6,398.4 411.2,398.6 411.2,400.6 409.6,400.4" fill="#c8c8c8" />
<polygon points="445.0,400.0 477.7,402.7 477.7,412.1 445.1,409.4" fill="#161616" stroke="#0a0a0a" stroke-width="0.6" stroke-linejoin="round" />
<polygon points="448.2,402.1 449.6,402.2 449.6,407.3 448.3,407.2" fill="#333" />
<polygon points="452.3,402.2 463.8,403.2 463.8,407.5 452.3,406.5" fill="#2e2e2e" />
<polygon points="478.4,402.7 513.8,405.6 513.7,415.2 478.4,412.2" fill="#161616" stroke="#0a0a0a" stroke-width="0.6" stroke-linejoin="round" />
<polygon points="482.6,405.0 484.0,405.1 484.0,410.1 482.6,410.0" fill="#333" />
<polygon points="487.4,405.1 498.5,406.0 498.4,410.3 487.4,409.4" fill="#2e2e2e" />
<polygon points="514.1,405.3 525.1,406.2 524.9,416.1 514.0,415.2" fill="#303030" />
<polygon points="391.5,407.1 524.9,418.4 524.7,428.8 391.8,417.2" fill="#1f1f1f" />
<polygon points="394.2,408.8 444.4,413.0 444.5,421.0 394.4,416.6" fill="#1a1a1a" stroke="#2e2e2e" stroke-width="0.5" stroke-linejoin="round" />
<polygon points="399.6,414.3 441.8,417.9 441.8,419.1 399.6,415.5" fill="#2b2b2b" />
<polygon points="406.7,410.6 408.3,410.7 408.3,412.6 406.7,412.5" fill="#c8c8c8" />
<polygon points="409.7,410.8 411.3,411.0 411.3,412.9 409.8,412.8" fill="#c8c8c8" />
<polygon points="445.0,412.5 477.6,415.2 477.6,424.4 445.1,421.6" fill="#161616" stroke="#0a0a0a" stroke-width="0.6" stroke-linejoin="round" />
<polygon points="448.2,414.6 449.5,414.7 449.5,419.6 448.2,419.5" fill="#333" />
<polygon points="452.2,414.7 463.7,415.7 463.7,419.8 452.2,418.8" fill="#2e2e2e" />
<polygon points="478.3,415.3 513.6,418.3 513.5,427.5 478.3,424.5" fill="#161616" stroke="#0a0a0a" stroke-width="0.6" stroke-linejoin="round" />
<polygon points="482.4,417.5 483.8,417.6 483.8,422.5 482.4,422.4" fill="#333" />
<polygon points="487.2,417.7 498.2,418.6 498.2,422.8 487.2,421.8" fill="#2e2e2e" />
<polygon points="513.9,418.0 524.9,418.9 524.7,428.5 513.8,427.6" fill="#303030" />
<polygon points="391.8,419.2 524.7,430.7 524.5,441.1 392.0,429.3" fill="#1f1f1f" />
<polygon points="394.5,420.8 444.4,425.2 444.5,433.1 394.6,428.7" fill="#1a1a1a" stroke="#2e2e2e" stroke-width="0.5" stroke-linejoin="round" />
<polygon points="399.8,426.4 441.8,430.1 441.8,431.3 399.9,427.6" fill="#2b2b2b" />
<polygon points="406.9,422.7 408.4,422.8 408.5,424.7 406.9,424.6" fill="#c8c8c8" />
<polygon points="409.9,422.9 411.4,423.1 411.5,425.0 409.9,424.9" fill="#c8c8c8" />
<polygon points="445.1,424.7 477.6,427.5 477.5,436.7 445.1,433.8" fill="#161616" stroke="#0a0a0a" stroke-width="0.6" stroke-linejoin="round" />
<polygon points="448.1,426.8 449.5,426.9 449.5,431.7 448.2,431.6" fill="#333" />
<polygon points="452.2,426.9 463.6,427.9 463.6,432.0 452.2,431.0" fill="#2e2e2e" />
<polygon points="478.2,427.6 513.4,430.6 513.3,439.9 478.2,436.7" fill="#161616" stroke="#0a0a0a" stroke-width="0.6" stroke-linejoin="round" />
<polygon points="482.2,429.7 483.6,429.9 483.6,434.8 482.2,434.6" fill="#333" />
<polygon points="487.0,429.9 497.9,430.9 497.9,435.1 487.0,434.1" fill="#2e2e2e" />
<polygon points="513.7,430.3 524.7,431.2 524.5,440.9 513.6,439.9" fill="#303030" />
<polygon points="392.1,431.2 524.5,443.1 524.3,453.6 392.3,441.5" fill="#1f1f1f" />
<polygon points="394.7,433.0 444.5,437.4 444.5,445.5 394.9,440.9" fill="#1a1a1a" stroke="#2e2e2e" stroke-width="0.5" stroke-linejoin="round" />
<polygon points="400.1,438.6 441.8,442.4 441.9,443.6 400.1,439.8" fill="#2b2b2b" />
<polygon points="407.0,434.8 408.6,434.9 408.6,436.9 407.0,436.8" fill="#c8c8c8" />
<polygon points="410.0,435.1 411.6,435.2 411.6,437.2 410.0,437.0" fill="#c8c8c8" />
<polygon points="445.1,436.9 477.5,439.8 477.5,449.1 445.2,446.1" fill="#161616" stroke="#0a0a0a" stroke-width="0.6" stroke-linejoin="round" />
<polygon points="448.1,439.0 449.4,439.1 449.4,444.1 448.1,443.9" fill="#333" />
<polygon points="452.1,439.1 463.5,440.1 463.5,444.3 452.1,443.3" fill="#2e2e2e" />
<polygon points="478.2,439.8 513.2,443.0 513.1,452.4 478.2,449.2" fill="#161616" stroke="#0a0a0a" stroke-width="0.6" stroke-linejoin="round" />
<polygon points="482.0,442.0 483.4,442.2 483.4,447.2 482.0,447.0" fill="#333" />
<polygon points="486.8,442.2 497.7,443.2 497.6,447.5 486.8,446.5" fill="#2e2e2e" />
<polygon points="513.5,442.6 524.5,443.6 524.3,453.4 513.3,452.4" fill="#303030" />
<polygon points="392.4,443.5 524.3,455.7 524.1,466.4 392.6,454.0" fill="#1f1f1f" />
<polygon points="395.0,445.3 444.5,449.8 444.6,458.0 395.2,453.4" fill="#1a1a1a" stroke="#2e2e2e" stroke-width="0.5" stroke-linejoin="round" />
<polygon points="400.4,451.0 441.9,454.9 441.9,456.1 400.4,452.2" fill="#2b2b2b" />
<polygon points="407.2,447.1 408.7,447.3 408.8,449.3 407.2,449.1" fill="#c8c8c8" />
<polygon points="410.1,447.4 411.7,447.5 411.7,449.6 410.2,449.4" fill="#c8c8c8" />
<polygon points="445.1,449.3 477.4,452.2 477.4,461.7 445.2,458.7" fill="#161616" stroke="#0a0a0a" stroke-width="0.6" stroke-linejoin="round" />
<polygon points="448.0,451.4 449.4,451.5 449.4,456.6 448.1,456.4" fill="#333" />
<polygon points="452.0,451.5 463.4,452.6 463.4,456.9 452.0,455.8" fill="#2e2e2e" />
<polygon points="478.1,452.3 513.0,455.5 512.8,465.1 478.1,461.8" fill="#161616" stroke="#0a0a0a" stroke-width="0.6" stroke-linejoin="round" />
<polygon points="481.8,454.5 483.2,454.7 483.2,459.7 481.8,459.6" fill="#333" />
<polygon points="486.6,454.7 497.4,455.7 497.4,460.1 486.5,459.0" fill="#2e2e2e" />
<polygon points="513.3,455.2 524.3,456.2 524.1,466.1 513.1,465.1" fill="#303030" />
<polygon points="392.7,455.9 524.1,468.4 523.9,478.8 392.9,466.1" fill="#1f1f1f" />
<polygon points="395.3,457.6 444.5,462.3 444.6,470.2 395.5,465.5" fill="#1a1a1a" stroke="#2e2e2e" stroke-width="0.5" stroke-linejoin="round" />
<polygon points="400.6,463.2 441.9,467.2 441.9,468.4 400.7,464.4" fill="#2b2b2b" />
<polygon points="407.3,459.5 408.9,459.7 408.9,461.6 407.4,461.4" fill="#c8c8c8" />
<polygon points="410.3,459.8 411.8,459.9 411.9,461.9 410.3,461.7" fill="#c8c8c8" />
<polygon points="445.2,461.8 477.3,464.8 477.3,474.0 445.2,470.9" fill="#161616" stroke="#0a0a0a" stroke-width="0.6" stroke-linejoin="round" />
<polygon points="448.0,463.9 449.3,464.0 449.3,468.9 448.0,468.7" fill="#333" />
<polygon points="452.0,464.0 463.3,465.1 463.3,469.2 452.0,468.1" fill="#2e2e2e" />
<polygon points="478.0,464.9 512.8,468.2 512.6,477.4 478.0,474.1" fill="#161616" stroke="#0a0a0a" stroke-width="0.6" stroke-linejoin="round" />
<polygon points="481.6,467.1 483.0,467.2 482.9,472.1 481.6,472.0" fill="#333" />
<polygon points="486.3,467.3 497.1,468.3 497.1,472.5 486.3,471.4" fill="#2e2e2e" />
<polygon points="513.0,467.8 524.1,468.9 523.9,478.5 512.9,477.4" fill="#303030" />
<polygon points="393.0,468.0 523.9,480.7 523.7,490.9 393.2,478.0" fill="#1f1f1f" />
<polygon points="395.6,469.7 444.6,474.4 444.6,482.2 395.8,477.4" fill="#1a1a1a" stroke="#2e2e2e" stroke-width="0.5" stroke-linejoin="round" />
<polygon points="400.9,475.2 442.0,479.2 442.0,480.4 400.9,476.4" fill="#2b2b2b" />
<polygon points="407.5,471.5 409.0,471.7 409.1,473.6 407.5,473.4" fill="#c8c8c8" />
<polygon points="410.4,471.8 412.0,472.0 412.0,473.9 410.4,473.7" fill="#c8c8c8" />
<polygon points="445.2,473.9 477.3,477.0 477.3,486.1 445.3,482.9" fill="#161616" stroke="#0a0a0a" stroke-width="0.6" stroke-linejoin="round" />
<polygon points="447.9,476.0 449.2,476.1 449.3,480.9 448.0,480.8" fill="#333" />
<polygon points="451.9,476.1 463.2,477.2 463.2,481.3 451.9,480.2" fill="#2e2e2e" />
<polygon points="477.9,477.1 512.5,480.5 512.4,489.5 477.9,486.1" fill="#161616" stroke="#0a0a0a" stroke-width="0.6" stroke-linejoin="round" />
<polygon points="481.4,479.2 482.8,479.4 482.7,484.2 481.4,484.1" fill="#333" />
<polygon points="486.1,479.5 496.9,480.5 496.9,484.6 486.1,483.6" fill="#2e2e2e" />
<polygon points="512.8,480.1 523.9,481.2 523.7,490.7 512.7,489.6" fill="#303030" />
<polygon points="393.3,479.8 523.7,492.8 523.5,502.8 393.5,489.6" fill="#1f1f1f" />
<polygon points="395.9,481.5 444.6,486.4 444.7,494.0 396.0,489.1" fill="#1a1a1a" stroke="#2e2e2e" stroke-width="0.5" stroke-linejoin="round" />
<polygon points="401.1,486.9 442.0,491.0 442.0,492.2 401.2,488.1" fill="#2b2b2b" />
<polygon points="407.6,483.4 409.2,483.5 409.2,485.4 407.7,485.2" fill="#c8c8c8" />
<polygon points="410.5,483.7 412.1,483.8 412.1,485.7 410.6,485.5" fill="#c8c8c8" />
<polygon points="445.2,485.8 477.2,489.0 477.2,497.9 445.3,494.7" fill="#161616" stroke="#0a0a0a" stroke-width="0.6" stroke-linejoin="round" />
<polygon points="447.9,487.9 449.2,488.0 449.2,492.7 447.9,492.6" fill="#333" />
<polygon points="451.8,488.0 463.1,489.2 463.1,493.2 451.8,492.0" fill="#2e2e2e" />
<polygon points="477.9,489.1 512.3,492.5 512.2,501.5 477.9,498.0" fill="#161616" stroke="#0a0a0a" stroke-width="0.6" stroke-linejoin="round" />
<polygon points="481.2,491.2 482.6,491.3 482.5,496.1 481.2,495.9" fill="#333" />
<polygon points="485.9,491.4 496.6,492.5 496.6,496.6 485.9,495.5" fill="#2e2e2e" />
<polygon points="512.6,492.2 523.7,493.3 523.5,502.6 512.5,501.5" fill="#303030" />
<polygon points="393.5,491.5 523.5,504.7 523.3,514.3 393.8,500.8" fill="#1f1f1f" />
<polygon points="396.1,493.1 444.6,498.0 444.7,505.3 396.3,500.3" fill="#1a1a1a" stroke="#2e2e2e" stroke-width="0.5" stroke-linejoin="round" />
<polygon points="401.4,498.3 442.1,502.5 442.1,503.6 401.4,499.4" fill="#2b2b2b" />
<polygon points="407.8,494.9 409.3,495.1 409.3,496.9 407.8,496.7" fill="#c8c8c8" />
<polygon points="410.6,495.2 412.2,495.4 412.2,497.2 410.7,497.0" fill="#c8c8c8" />
<polygon points="445.3,497.5 477.1,500.8 477.1,509.3 445.3,506.0" fill="#161616" stroke="#0a0a0a" stroke-width="0.6" stroke-linejoin="round" />
<polygon points="447.8,499.5 449.1,499.6 449.2,504.1 447.9,504.0" fill="#333" />
<polygon points="451.8,499.7 463.0,500.8 463.0,504.6 451.8,503.5" fill="#2e2e2e" />
<polygon points="477.8,500.8 512.1,504.4 512.0,512.9 477.8,509.3" fill="#161616" stroke="#0a0a0a" stroke-width="0.6" stroke-linejoin="round" />
<polygon points="481.0,502.9 482.4,503.0 482.3,507.6 481.0,507.4" fill="#333" />
<polygon points="485.7,503.1 496.4,504.2 496.4,508.1 485.7,507.0" fill="#2e2e2e" />
<polygon points="512.4,504.0 523.5,505.2 523.3,514.1 512.3,512.9" fill="#303030" />
<polygon points="393.8,502.7 523.3,516.2 523.1,526.4 394.1,512.6" fill="#1f1f1f" />
<polygon points="396.4,504.4 444.7,509.4 444.7,517.2 396.6,512.1" fill="#1a1a1a" stroke="#2e2e2e" stroke-width="0.5" stroke-linejoin="round" />
<polygon points="401.6,509.9 442.1,514.2 442.1,515.4 401.7,511.1" fill="#2b2b2b" />
<polygon points="407.9,506.3 409.4,506.5 409.5,508.4 407.9,508.2" fill="#c8c8c8" />
<polygon points="410.8,506.6 412.3,506.8 412.4,508.7 410.8,508.5" fill="#c8c8c8" />
<polygon points="445.3,508.9 477.1,512.2 477.1,521.2 445.4,517.9" fill="#161616" stroke="#0a0a0a" stroke-width="0.6" stroke-linejoin="round" />
<polygon points="447.8,510.9 449.1,511.1 449.1,515.9 447.8,515.7" fill="#333" />
<polygon points="451.7,511.1 462.9,512.3 462.9,516.4 451.7,515.2" fill="#2e2e2e" />
<polygon points="477.7,512.3 511.9,515.9 511.8,524.9 477.7,521.3" fill="#161616" stroke="#0a0a0a" stroke-width="0.6" stroke-linejoin="round" />
<polygon points="480.8,514.4 482.2,514.6 482.2,519.4 480.8,519.2" fill="#333" />
<polygon points="485.5,514.7 496.1,515.8 496.1,519.9 485.5,518.8" fill="#2e2e2e" />
<polygon points="512.2,515.5 523.3,516.7 523.1,526.1 512.1,525.0" fill="#303030" />
<polygon points="394.1,514.5 523.1,528.3 522.9,538.3 394.3,524.3" fill="#1f1f1f" />
<polygon points="396.7,516.2 444.7,521.3 444.8,529.0 396.9,523.8" fill="#1a1a1a" stroke="#2e2e2e" stroke-width="0.5" stroke-linejoin="round" />
<polygon points="401.9,521.7 442.2,526.0 442.2,527.2 401.9,522.8" fill="#2b2b2b" />
<polygon points="408.0,518.1 409.6,518.3 409.6,520.2 408.1,520.0" fill="#c8c8c8" />
<polygon points="410.9,518.4 412.4,518.6 412.5,520.5 410.9,520.3" fill="#c8c8c8" />
<polygon points="445.3,520.8 477.0,524.2 477.0,533.1 445.4,529.6" fill="#161616" stroke="#0a0a0a" stroke-width="0.6" stroke-linejoin="round" />
<polygon points="447.7,522.8 449.0,523.0 449.1,527.7 447.8,527.6" fill="#333" />
<polygon points="451.6,523.0 462.8,524.2 462.8,528.2 451.7,527.0" fill="#2e2e2e" />
<polygon points="477.7,524.3 511.7,527.9 511.6,536.8 477.6,533.2" fill="#161616" stroke="#0a0a0a" stroke-width="0.6" stroke-linejoin="round" />
<polygon points="480.6,526.4 482.0,526.5 482.0,531.3 480.6,531.1" fill="#333" />
<polygon points="485.3,526.6 495.9,527.8 495.8,531.8 485.3,530.7" fill="#2e2e2e" />
<polygon points="512.0,527.6 523.1,528.8 522.9,538.1 511.9,536.9" fill="#303030" />
<polygon points="394.4,526.1 522.9,540.2 522.7,549.8 394.6,535.5" fill="#1f1f1f" />
<polygon points="396.9,527.8 444.8,533.0 444.8,540.3 397.1,535.0" fill="#1a1a1a" stroke="#2e2e2e" stroke-width="0.5" stroke-linejoin="round" />
<polygon points="402.1,533.0 442.2,537.5 442.2,538.6 402.2,534.1" fill="#2b2b2b" />
<polygon points="408.2,529.7 409.7,529.8 409.8,531.6 408.2,531.5" fill="#c8c8c8" />
<polygon points="411.0,530.0 412.6,530.2 412.6,531.9 411.1,531.8" fill="#c8c8c8" />
<polygon points="445.4,532.5 476.9,536.0 476.9,544.5 445.4,541.0" fill="#161616" stroke="#0a0a0a" stroke-width="0.6" stroke-linejoin="round" />
<polygon points="447.7,534.5 449.0,534.6 449.0,539.1 447.7,539.0" fill="#333" />
<polygon points="451.6,534.7 462.7,535.9 462.7,539.7 451.6,538.5" fill="#2e2e2e" />
<polygon points="477.6,536.0 511.5,539.7 511.4,548.3 477.6,544.5" fill="#161616" stroke="#0a0a0a" stroke-width="0.6" stroke-linejoin="round" />
<polygon points="480.5,538.0 481.8,538.2 481.8,542.7 480.4,542.6" fill="#333" />
<polygon points="485.1,538.3 495.6,539.5 495.6,543.3 485.0,542.2" fill="#2e2e2e" />
<polygon points="511.8,539.4 522.9,540.6 522.7,549.5 511.7,548.3" fill="#303030" />
<polygon points="394.6,537.4 522.7,551.7 522.5,561.8 394.9,547.3" fill="#1f1f1f" />
<polygon points="397.2,539.1 444.8,544.4 444.8,552.2 397.4,546.8" fill="#1a1a1a" stroke="#2e2e2e" stroke-width="0.5" stroke-linejoin="round" />
<polygon points="402.4,544.6 442.2,549.1 442.3,550.3 402.4,545.8" fill="#2b2b2b" />
<polygon points="408.3,541.0 409.9,541.2 409.9,543.1 408.4,542.9" fill="#c8c8c8" />
<polygon points="411.2,541.4 412.7,541.5 412.7,543.4 411.2,543.3" fill="#c8c8c8" />
<polygon points="445.4,543.9 476.9,547.4 476.8,556.4 445.5,552.8" fill="#161616" stroke="#0a0a0a" stroke-width="0.6" stroke-linejoin="round" />
<polygon points="447.6,545.9 448.9,546.1 449.0,550.9 447.7,550.7" fill="#333" />
<polygon points="451.5,546.1 462.6,547.3 462.6,551.4 451.5,550.2" fill="#2e2e2e" />
<polygon points="477.5,547.5 511.3,551.2 511.2,560.3 477.5,556.5" fill="#161616" stroke="#0a0a0a" stroke-width="0.6" stroke-linejoin="round" />
<polygon points="480.3,549.6 481.6,549.7 481.6,554.5 480.3,554.4" fill="#333" />
<polygon points="484.9,549.8 495.4,551.0 495.4,555.1 484.8,553.9" fill="#2e2e2e" />
<polygon points="511.6,550.9 522.7,552.1 522.5,561.6 511.5,560.3" fill="#303030" />
<polygon points="394.9,549.2 522.5,563.7 522.4,573.3 395.2,558.6" fill="#1f1f1f" />
<polygon points="397.5,550.8 444.8,556.2 444.9,563.5 397.7,558.1" fill="#1a1a1a" stroke="#2e2e2e" stroke-width="0.5" stroke-linejoin="round" />
<polygon points="402.6,556.1 442.3,560.7 442.3,561.8 402.7,557.2" fill="#2b2b2b" />
<polygon points="408.5,552.7 410.0,552.9 410.0,554.7 408.5,554.5" fill="#c8c8c8" />
<polygon points="411.3,553.1 412.8,553.2 412.8,555.0 411.3,554.9" fill="#c8c8c8" />
<polygon points="445.5,555.7 476.8,559.3 476.8,567.8 445.5,564.2" fill="#161616" stroke="#0a0a0a" stroke-width="0.6" stroke-linejoin="round" />
<polygon points="447.6,557.7 448.9,557.8 448.9,562.3 447.6,562.2" fill="#333" />
<polygon points="451.5,557.9 462.5,559.1 462.5,563.0 451.5,561.7" fill="#2e2e2e" />
<polygon points="477.4,559.4 511.1,563.2 511.0,571.8 477.4,567.9" fill="#161616" stroke="#0a0a0a" stroke-width="0.6" stroke-linejoin="round" />
<polygon points="480.1,561.4 481.4,561.5 481.4,566.1 480.1,565.9" fill="#333" />
<polygon points="484.6,561.7 495.1,562.9 495.1,566.7 484.6,565.5" fill="#2e2e2e" />
<polygon points="511.4,562.9 522.5,564.2 522.4,573.1 511.3,571.8" fill="#303030" />
<polygon points="395.2,560.3 522.3,575.1 522.2,584.6 395.4,569.6" fill="#1f1f1f" />
<polygon points="397.7,562.0 444.9,567.5 444.9,574.7 397.9,569.2" fill="#1a1a1a" stroke="#2e2e2e" stroke-width="0.5" stroke-linejoin="round" />
<polygon points="402.9,567.2 442.3,571.8 442.3,573.0 402.9,568.3" fill="#2b2b2b" />
<polygon points="408.6,563.9 410.1,564.1 410.2,565.8 408.6,565.7" fill="#c8c8c8" />
<polygon points="411.4,564.2 412.9,564.4 413.0,566.2 411.4,566.0" fill="#c8c8c8" />
<polygon points="445.5,567.0 476.7,570.6 476.7,579.0 445.6,575.3" fill="#161616" stroke="#0a0a0a" stroke-width="0.6" stroke-linejoin="round" />
<polygon points="447.5,568.9 448.8,569.0 448.9,573.5 447.6,573.3" fill="#333" />
<polygon points="451.4,569.1 462.4,570.4 462.4,574.2 451.4,572.9" fill="#2e2e2e" />
<polygon points="477.4,570.7 510.9,574.6 510.8,583.0 477.4,579.1" fill="#161616" stroke="#0a0a0a" stroke-width="0.6" stroke-linejoin="round" />
<polygon points="479.9,572.7 481.2,572.8 481.2,577.3 479.9,577.2" fill="#333" />
<polygon points="484.4,573.0 494.9,574.2 494.9,578.0 484.4,576.8" fill="#2e2e2e" />
<polygon points="511.2,574.3 522.3,575.6 522.2,584.4 511.1,583.1" fill="#303030" />
<polygon points="395.5,571.4 522.1,586.4 522.0,596.2 395.7,581.0" fill="#1f1f1f" />
<polygon points="398.0,573.1 444.9,578.7 444.9,586.1 398.2,580.5" fill="#1a1a1a" stroke="#2e2e2e" stroke-width="0.5" stroke-linejoin="round" />
<polygon points="403.1,578.5 442.4,583.2 442.4,584.3 403.2,579.6" fill="#2b2b2b" />
<polygon points="408.8,575.1 410.3,575.2 410.3,577.1 408.8,576.9" fill="#c8c8c8" />
<polygon points="411.5,575.4 413.0,575.6 413.1,577.4 411.6,577.2" fill="#c8c8c8" />
<polygon points="445.5,578.2 476.7,581.9 476.6,590.5 445.6,586.8" fill="#161616" stroke="#0a0a0a" stroke-width="0.6" stroke-linejoin="round" />
<polygon points="447.5,580.1 448.8,580.3 448.8,584.9 447.5,584.7" fill="#333" />
<polygon points="451.3,580.4 462.3,581.6 462.3,585.6 451.4,584.3" fill="#2e2e2e" />
<polygon points="477.3,581.9 510.7,585.9 510.6,594.6 477.3,590.6" fill="#161616" stroke="#0a0a0a" stroke-width="0.6" stroke-linejoin="round" />
<polygon points="479.7,584.0 481.0,584.1 481.0,588.7 479.7,588.6" fill="#333" />
<polygon points="484.2,584.3 494.7,585.5 494.6,589.4 484.2,588.2" fill="#2e2e2e" />
<polygon points="511.0,585.6 522.1,586.9 522.0,596.0 510.9,594.6" fill="#303030" />
<polygon points="388.0,317.6 527.1,326.7 526.9,338.6 388.3,329.1" fill="#d5d5ea" />
<polygon points="391.8,322.2 487.9,328.6 487.9,332.4 391.8,325.9" fill="#1e1e1e" />
<polygon points="392.3,326.2 394.3,326.3 394.3,327.7 392.3,327.5" fill="#555" />
<polygon points="395.8,326.4 397.9,326.5 397.9,327.9 395.9,327.8" fill="#555" />
<polygon points="399.4,326.6 401.5,326.8 401.5,328.2 399.5,328.0" fill="#555" />
<polygon points="403.0,326.9 405.1,327.0 405.1,328.4 403.0,328.3" fill="#555" />
<polygon points="406.6,327.1 408.7,327.3 408.7,328.6 406.6,328.5" fill="#555" />
<polygon points="410.2,327.4 412.3,327.5 412.3,328.9 410.2,328.8" fill="#555" />
<polygon points="413.8,327.6 415.9,327.8 415.9,329.1 413.9,329.0" fill="#555" />
<polygon points="417.4,327.9 419.5,328.0 419.5,329.4 417.5,329.2" fill="#555" />
<polygon points="421.1,328.1 423.1,328.2 423.1,329.6 421.1,329.5" fill="#555" />
<polygon points="424.7,328.3 426.8,328.5 426.8,329.9 424.7,329.7" fill="#555" />
<polygon points="428.3,328.6 430.4,328.7 430.4,330.1 428.3,330.0" fill="#555" />
<polygon points="432.0,328.8 434.0,329.0 434.0,330.4 432.0,330.2" fill="#555" />
<polygon points="435.6,329.1 437.7,329.2 437.7,330.6 435.6,330.5" fill="#555" />
<polygon points="439.3,329.3 441.3,329.5 441.3,330.9 439.3,330.7" fill="#555" />
<polygon points="442.9,329.6 445.0,329.7 445.0,331.1 442.9,331.0" fill="#555" />
<polygon points="446.6,329.8 448.6,330.0 448.6,331.4 446.6,331.2" fill="#555" />
<polygon points="450.2,330.1 452.3,330.2 452.3,331.6 450.2,331.5" fill="#555" />
<polygon points="453.9,330.3 456.0,330.5 456.0,331.9 453.9,331.7" fill="#555" />
<polygon points="457.6,330.6 459.7,330.7 459.7,332.1 457.6,332.0" fill="#555" />
<polygon points="461.3,330.8 463.3,331.0 463.3,332.4 461.3,332.2" fill="#555" />
<polygon points="464.9,331.1 467.0,331.2 467.0,332.6 464.9,332.5" fill="#555" />
<polygon points="468.6,331.3 470.7,331.5 470.7,332.9 468.6,332.7" fill="#555" />
<polygon points="472.3,331.6 474.4,331.7 474.4,333.1 472.3,333.0" fill="#555" />
<polygon points="476.0,331.8 478.1,332.0 478.1,333.4 476.0,333.2" fill="#555" />
<polygon points="479.7,332.1 481.8,332.2 481.8,333.6 479.7,333.5" fill="#555" />
<polygon points="483.5,332.3 485.6,332.5 485.6,333.9 483.5,333.7" fill="#555" />
<polygon points="490.1,329.3 498.6,329.8 498.6,335.2 490.1,334.7" fill="#1e1e1e" />
<polygon points="501.4,330.0 509.2,330.5 509.2,336.0 501.4,335.4" fill="#1e1e1e" />
<polygon points="512.8,329.4 525.6,330.2 525.5,337.5 512.7,336.7" fill="#1e1e1e" />
<polygon points="388.3,328.4 526.9,337.9 526.9,338.6 388.3,329.1" fill="#555" />
<polygon points="388.3,329.1 526.9,338.6 526.7,350.3 388.6,340.6" fill="#d5d5ea" />
<polygon points="392.0,333.7 487.8,340.4 487.8,344.1 392.1,337.4" fill="#1e1e1e" />
<polygon points="392.5,337.6 394.5,337.8 394.6,339.2 392.6,339.0" fill="#555" />
<polygon points="396.1,337.9 398.1,338.0 398.1,339.4 396.1,339.3" fill="#555" />
<polygon points="399.7,338.1 401.7,338.3 401.7,339.7 399.7,339.5" fill="#555" />
<polygon points="403.3,338.4 405.3,338.5 405.3,339.9 403.3,339.8" fill="#555" />
<polygon points="406.8,338.7 408.9,338.8 408.9,340.2 406.9,340.0" fill="#555" />
<polygon points="410.4,338.9 412.5,339.0 412.5,340.4 410.5,340.3" fill="#555" />
<polygon points="414.0,339.2 416.1,339.3 416.1,340.7 414.1,340.5" fill="#555" />
<polygon points="417.6,339.4 419.7,339.6 419.7,340.9 417.7,340.8" fill="#555" />
<polygon points="421.2,339.7 423.3,339.8 423.3,341.2 421.3,341.0" fill="#555" />
<polygon points="424.9,339.9 426.9,340.1 426.9,341.4 424.9,341.3" fill="#555" />
<polygon points="428.5,340.2 430.5,340.3 430.5,341.7 428.5,341.6" fill="#555" />
<polygon points="432.1,340.4 434.2,340.6 434.2,342.0 432.1,341.8" fill="#555" />
<polygon points="435.7,340.7 437.8,340.8 437.8,342.2 435.7,342.1" fill="#555" />
<polygon points="439.4,340.9 441.4,341.1 441.4,342.5 439.4,342.3" fill="#555" />
<polygon points="443.0,341.2 445.1,341.3 445.1,342.7 443.0,342.6" fill="#555" />
<polygon points="446.6,341.4 448.7,341.6 448.7,343.0 446.7,342.8" fill="#555" />
<polygon points="450.3,341.7 452.4,341.8 452.4,343.2 450.3,343.1" fill="#555" />
<polygon points="454.0,342.0 456.0,342.1 456.0,343.5 454.0,343.3" fill="#555" />
<polygon points="457.6,342.2 459.7,342.4 459.7,343.8 457.6,343.6" fill="#555" />
<polygon points="461.3,342.5 463.4,342.6 463.4,344.0 461.3,343.9" fill="#555" />
<polygon points="465.0,342.7 467.0,342.9 467.0,344.3 465.0,344.1" fill="#555" />
<polygon points="468.6,343.0 470.7,343.1 470.7,344.5 468.6,344.4" fill="#555" />
<polygon points="472.3,343.2 474.4,343.4 474.4,344.8 472.3,344.6" fill="#555" />
<polygon points="476.0,343.5 478.1,343.7 478.1,345.0 476.0,344.9" fill="#555" />
<polygon points="479.7,343.8 481.8,343.9 481.8,345.3 479.7,345.2" fill="#555" />
<polygon points="483.4,344.0 485.5,344.2 485.5,345.6 483.4,345.4" fill="#555" />
<polygon points="490.1,341.0 498.5,341.6 498.5,346.9 490.1,346.4" fill="#1e1e1e" />
<polygon points="501.3,341.8 509.1,342.3 509.0,347.7 501.3,347.1" fill="#1e1e1e" />
<polygon points="512.7,341.1 525.4,342.0 525.3,349.3 512.6,348.4" fill="#1e1e1e" />
<polygon points="388.5,339.9 526.7,349.6 526.7,350.3 388.6,340.6" fill="#555" />
<polygon points="683.4,53.0 738.9,53.0 738.9,280.0 683.4,280.0" fill="#929292" stroke="#333" stroke-width="1.0" stroke-linejoin="round" />
<polygon points="683.4,53.0 701.4,34.7 756.9,34.7 738.9,53.0" fill="#b2b0b0" stroke="#333" stroke-width="1.0" stroke-linejoin="round" />
<polygon points="738.9,53.0 756.9,34.7 756.9,261.7 738.9,280.0" fill="#707073" stroke="#333" stroke-width="1.1" stroke-linejoin="round" />
<polygon points="683.4,157.6 738.9,157.6 738.9,168.1 683.4,168.1" fill="#d6edf1" />
<line x1="683.4" y1="168.6" x2="738.9" y2="168.6" stroke="#2a2a2a" stroke-width="1.3" />
<line x1="683.4" y1="157.3" x2="738.9" y2="157.3" stroke="#555" stroke-width="0.6" />
<polygon points="738.9,157.6 756.9,145.7 756.9,154.9 738.9,168.1" fill="#d2eaee" />
<line x1="738.9" y1="168.6" x2="756.9" y2="155.4" stroke="#2a2a2a" stroke-width="1.2" />
<line x1="738.9" y1="157.6" x2="756.9" y2="145.7" stroke="#333" stroke-width="0.7" />
<line x1="738.9" y1="53.0" x2="738.9" y2="280.0" stroke="#2a2a2a" stroke-width="0.9" />
<polygon points="768.2,52.4 823.7,52.4 823.7,279.4 768.2,279.4" fill="#929292" stroke="#333" stroke-width="1.0" stroke-linejoin="round" />
<polygon points="768.2,52.4 786.2,34.1 841.7,34.1 823.7,52.4" fill="#b2b0b0" stroke="#333" stroke-width="1.0" stroke-linejoin="round" />
<polygon points="823.7,52.4 841.7,34.1 841.7,261.1 823.7,279.4" fill="#707073" stroke="#333" stroke-width="1.1" stroke-linejoin="round" />
<polygon points="768.2,157.0 823.7,157.0 823.7,167.5 768.2,167.5" fill="#d6edf1" />
<line x1="768.2" y1="168.0" x2="823.7" y2="168.0" stroke="#2a2a2a" stroke-width="1.3" />
<line x1="768.2" y1="156.7" x2="823.7" y2="156.7" stroke="#555" stroke-width="0.6" />
<polygon points="823.7,157.0 841.7,145.1 841.7,154.3 823.7,167.5" fill="#d2eaee" />
<line x1="823.7" y1="168.0" x2="841.7" y2="154.8" stroke="#2a2a2a" stroke-width="1.2" />
<line x1="823.7" y1="157.0" x2="841.7" y2="145.1" stroke="#333" stroke-width="0.7" />
<line x1="823.7" y1="52.4" x2="823.7" y2="279.4" stroke="#2a2a2a" stroke-width="0.9" />
<polygon points="853.2,50.0 908.7,50.0 908.7,277.0 853.2,277.0" fill="#929292" stroke="#333" stroke-width="1.0" stroke-linejoin="round" />
<polygon points="853.2,50.0 871.2,31.7 926.7,31.7 908.7,50.0" fill="#b2b0b0" stroke="#333" stroke-width="1.0" stroke-linejoin="round" />
<polygon points="908.7,50.0 926.7,31.7 926.7,258.7 908.7,277.0" fill="#707073" stroke="#333" stroke-width="1.1" stroke-linejoin="round" />
<polygon points="853.2,154.6 908.7,154.6 908.7,165.1 853.2,165.1" fill="#d6edf1" />
<line x1="853.2" y1="165.6" x2="908.7" y2="165.6" stroke="#2a2a2a" stroke-width="1.3" />
<line x1="853.2" y1="154.3" x2="908.7" y2="154.3" stroke="#555" stroke-width="0.6" />
<polygon points="908.7,154.6 926.7,142.7 926.7,151.9 908.7,165.1" fill="#d2eaee" />
<line x1="908.7" y1="165.6" x2="926.7" y2="152.4" stroke="#2a2a2a" stroke-width="1.2" />
<line x1="908.7" y1="154.6" x2="926.7" y2="142.7" stroke="#333" stroke-width="0.7" />
<line x1="908.7" y1="50.0" x2="908.7" y2="277.0" stroke="#2a2a2a" stroke-width="0.9" />
<polygon points="937.3,50.0 992.8,50.0 992.8,277.0 937.3,277.0" fill="#929292" stroke="#333" stroke-width="1.0" stroke-linejoin="round" />
<polygon points="937.3,50.0 955.3,31.7 1010.8,31.7 992.8,50.0" fill="#b2b0b0" stroke="#333" stroke-width="1.0" stroke-linejoin="round" />
<polygon points="992.8,50.0 1010.8,31.7 1010.8,258.7 992.8,277.0" fill="#707073" stroke="#333" stroke-width="1.1" stroke-linejoin="round" />
<polygon points="937.3,154.6 992.8,154.6 992.8,165.1 937.3,165.1" fill="#d6edf1" />
<line x1="937.3" y1="165.6" x2="992.8" y2="165.6" stroke="#2a2a2a" stroke-width="1.3" />
<line x1="937.3" y1="154.3" x2="992.8" y2="154.3" stroke="#555" stroke-width="0.6" />
<polygon points="992.8,154.6 1010.8,142.7 1010.8,151.9 992.8,165.1" fill="#d2eaee" />
<line x1="992.8" y1="165.6" x2="1010.8" y2="152.4" stroke="#2a2a2a" stroke-width="1.2" />
<line x1="992.8" y1="154.6" x2="1010.8" y2="142.7" stroke="#333" stroke-width="0.7" />
<line x1="992.8" y1="50.0" x2="992.8" y2="277.0" stroke="#2a2a2a" stroke-width="0.9" />
<line x1="751.4" y1="23.4" x2="751.4" y2="149.3" stroke="#a3c442" stroke-width="2.1" />
<line x1="836.2" y1="22.8" x2="836.2" y2="148.7" stroke="#a3c442" stroke-width="2.1" />
<line x1="921.2" y1="21.6" x2="921.2" y2="146.3" stroke="#a3c442" stroke-width="2.1" />
<line x1="1005.3" y1="21.6" x2="1005.3" y2="146.3" stroke="#a3c442" stroke-width="2.1" />
<polygon points="651.3,87.1 706.8,87.1 706.8,314.1 651.3,314.1" fill="#929292" stroke="#333" stroke-width="1.0" stroke-linejoin="round" />
<polygon points="651.3,87.1 669.3,68.8 724.8,68.8 706.8,87.1" fill="#b2b0b0" stroke="#333" stroke-width="1.0" stroke-linejoin="round" />
<polygon points="706.8,87.1 724.8,68.8 724.8,295.8 706.8,314.1" fill="#707073" stroke="#333" stroke-width="1.1" stroke-linejoin="round" />
<polygon points="651.3,191.7 706.8,191.7 706.8,202.2 651.3,202.2" fill="#d6edf1" />
<line x1="651.3" y1="202.7" x2="706.8" y2="202.7" stroke="#2a2a2a" stroke-width="1.3" />
<line x1="651.3" y1="191.4" x2="706.8" y2="191.4" stroke="#555" stroke-width="0.6" />
<polygon points="706.8,191.7 724.8,179.8 724.8,189.0 706.8,202.2" fill="#d2eaee" />
<line x1="706.8" y1="202.7" x2="724.8" y2="189.5" stroke="#2a2a2a" stroke-width="1.2" />
<line x1="706.8" y1="191.7" x2="724.8" y2="179.8" stroke="#333" stroke-width="0.7" />
<line x1="706.8" y1="87.1" x2="706.8" y2="314.1" stroke="#2a2a2a" stroke-width="0.9" />
<polygon points="736.1,87.0 791.6,87.0 791.6,314.0 736.1,314.0" fill="#929292" stroke="#333" stroke-width="1.0" stroke-linejoin="round" />
<polygon points="736.1,87.0 754.1,68.7 809.6,68.7 791.6,87.0" fill="#b2b0b0" stroke="#333" stroke-width="1.0" stroke-linejoin="round" />
<polygon points="791.6,87.0 809.6,68.7 809.6,295.7 791.6,314.0" fill="#707073" stroke="#333" stroke-width="1.1" stroke-linejoin="round" />
<polygon points="736.1,191.6 791.6,191.6 791.6,202.1 736.1,202.1" fill="#d6edf1" />
<line x1="736.1" y1="202.6" x2="791.6" y2="202.6" stroke="#2a2a2a" stroke-width="1.3" />
<line x1="736.1" y1="191.3" x2="791.6" y2="191.3" stroke="#555" stroke-width="0.6" />
<polygon points="791.6,191.6 809.6,179.7 809.6,188.9 791.6,202.1" fill="#d2eaee" />
<line x1="791.6" y1="202.6" x2="809.6" y2="189.4" stroke="#2a2a2a" stroke-width="1.2" />
<line x1="791.6" y1="191.6" x2="809.6" y2="179.7" stroke="#333" stroke-width="0.7" />
<line x1="791.6" y1="87.0" x2="791.6" y2="314.0" stroke="#2a2a2a" stroke-width="0.9" />
<polygon points="821.0,85.3 876.5,85.3 876.5,312.3 821.0,312.3" fill="#929292" stroke="#333" stroke-width="1.0" stroke-linejoin="round" />
<polygon points="821.0,85.3 839.0,67.0 894.5,67.0 876.5,85.3" fill="#b2b0b0" stroke="#333" stroke-width="1.0" stroke-linejoin="round" />
<polygon points="876.5,85.3 894.5,67.0 894.5,294.0 876.5,312.3" fill="#707073" stroke="#333" stroke-width="1.1" stroke-linejoin="round" />
<polygon points="821.0,189.9 876.5,189.9 876.5,200.4 821.0,200.4" fill="#d6edf1" />
<line x1="821.0" y1="200.9" x2="876.5" y2="200.9" stroke="#2a2a2a" stroke-width="1.3" />
<line x1="821.0" y1="189.6" x2="876.5" y2="189.6" stroke="#555" stroke-width="0.6" />
<polygon points="876.5,189.9 894.5,178.0 894.5,187.2 876.5,200.4" fill="#d2eaee" />
<line x1="876.5" y1="200.9" x2="894.5" y2="187.7" stroke="#2a2a2a" stroke-width="1.2" />
<line x1="876.5" y1="189.9" x2="894.5" y2="178.0" stroke="#333" stroke-width="0.7" />
<line x1="876.5" y1="85.3" x2="876.5" y2="312.3" stroke="#2a2a2a" stroke-width="0.9" />
<polygon points="905.6,85.0 961.1,85.0 961.1,312.0 905.6,312.0" fill="#929292" stroke="#333" stroke-width="1.0" stroke-linejoin="round" />
<polygon points="905.6,85.0 923.6,66.7 979.1,66.7 961.1,85.0" fill="#b2b0b0" stroke="#333" stroke-width="1.0" stroke-linejoin="round" />
<polygon points="961.1,85.0 979.1,66.7 979.1,293.7 961.1,312.0" fill="#707073" stroke="#333" stroke-width="1.1" stroke-linejoin="round" />
<polygon points="905.6,189.6 961.1,189.6 961.1,200.1 905.6,200.1" fill="#d6edf1" />
<line x1="905.6" y1="200.6" x2="961.1" y2="200.6" stroke="#2a2a2a" stroke-width="1.3" />
<line x1="905.6" y1="189.3" x2="961.1" y2="189.3" stroke="#555" stroke-width="0.6" />
<polygon points="961.1,189.6 979.1,177.7 979.1,186.9 961.1,200.1" fill="#d2eaee" />
<line x1="961.1" y1="200.6" x2="979.1" y2="187.4" stroke="#2a2a2a" stroke-width="1.2" />
<line x1="961.1" y1="189.6" x2="979.1" y2="177.7" stroke="#333" stroke-width="0.7" />
<line x1="961.1" y1="85.0" x2="961.1" y2="312.0" stroke="#2a2a2a" stroke-width="0.9" />
<line x1="719.3" y1="57.5" x2="719.3" y2="183.4" stroke="#a3c442" stroke-width="2.1" />
<line x1="804.1" y1="57.4" x2="804.1" y2="183.3" stroke="#a3c442" stroke-width="2.1" />
<line x1="889.0" y1="56.9" x2="889.0" y2="181.6" stroke="#a3c442" stroke-width="2.1" />
<line x1="973.6" y1="56.6" x2="973.6" y2="181.3" stroke="#a3c442" stroke-width="2.1" />
<polygon points="620.5,118.4 676.0,118.4 676.0,345.4 620.5,345.4" fill="#929292" stroke="#333" stroke-width="1.0" stroke-linejoin="round" />
<polygon points="620.5,118.4 638.5,100.1 694.0,100.1 676.0,118.4" fill="#b2b0b0" stroke="#333" stroke-width="1.0" stroke-linejoin="round" />
<polygon points="676.0,118.4 694.0,100.1 694.0,327.1 676.0,345.4" fill="#707073" stroke="#333" stroke-width="1.1" stroke-linejoin="round" />
<polygon points="620.5,223.0 676.0,223.0 676.0,233.5 620.5,233.5" fill="#d6edf1" />
<line x1="620.5" y1="234.0" x2="676.0" y2="234.0" stroke="#2a2a2a" stroke-width="1.3" />
<line x1="620.5" y1="222.7" x2="676.0" y2="222.7" stroke="#555" stroke-width="0.6" />
<polygon points="676.0,223.0 694.0,211.1 694.0,220.3 676.0,233.5" fill="#d2eaee" />
<line x1="676.0" y1="234.0" x2="694.0" y2="220.8" stroke="#2a2a2a" stroke-width="1.2" />
<line x1="676.0" y1="223.0" x2="694.0" y2="211.1" stroke="#333" stroke-width="0.7" />
<line x1="676.0" y1="118.4" x2="676.0" y2="345.4" stroke="#2a2a2a" stroke-width="0.9" />
<polygon points="704.6,118.2 760.1,118.2 760.1,345.2 704.6,345.2" fill="#929292" stroke="#333" stroke-width="1.0" stroke-linejoin="round" />
<polygon points="704.6,118.2 722.6,99.9 778.1,99.9 760.1,118.2" fill="#b2b0b0" stroke="#333" stroke-width="1.0" stroke-linejoin="round" />
<polygon points="760.1,118.2 778.1,99.9 778.1,326.9 760.1,345.2" fill="#707073" stroke="#333" stroke-width="1.1" stroke-linejoin="round" />
<polygon points="704.6,222.8 760.1,222.8 760.1,233.3 704.6,233.3" fill="#d6edf1" />
<line x1="704.6" y1="233.8" x2="760.1" y2="233.8" stroke="#2a2a2a" stroke-width="1.3" />
<line x1="704.6" y1="222.5" x2="760.1" y2="222.5" stroke="#555" stroke-width="0.6" />
<polygon points="760.1,222.8 778.1,210.9 778.1,220.1 760.1,233.3" fill="#d2eaee" />
<line x1="760.1" y1="233.8" x2="778.1" y2="220.6" stroke="#2a2a2a" stroke-width="1.2" />
<line x1="760.1" y1="222.8" x2="778.1" y2="210.9" stroke="#333" stroke-width="0.7" />
<line x1="760.1" y1="118.2" x2="760.1" y2="345.2" stroke="#2a2a2a" stroke-width="0.9" />
<polygon points="788.7,116.3 844.2,116.3 844.2,343.3 788.7,343.3" fill="#929292" stroke="#333" stroke-width="1.0" stroke-linejoin="round" />
<polygon points="788.7,116.3 806.7,98.0 862.2,98.0 844.2,116.3" fill="#b2b0b0" stroke="#333" stroke-width="1.0" stroke-linejoin="round" />
<polygon points="844.2,116.3 862.2,98.0 862.2,325.0 844.2,343.3" fill="#707073" stroke="#333" stroke-width="1.1" stroke-linejoin="round" />
<polygon points="788.7,220.9 844.2,220.9 844.2,231.4 788.7,231.4" fill="#d6edf1" />
<line x1="788.7" y1="231.9" x2="844.2" y2="231.9" stroke="#2a2a2a" stroke-width="1.3" />
<line x1="788.7" y1="220.6" x2="844.2" y2="220.6" stroke="#555" stroke-width="0.6" />
<polygon points="844.2,220.9 862.2,209.0 862.2,218.2 844.2,231.4" fill="#d2eaee" />
<line x1="844.2" y1="231.9" x2="862.2" y2="218.7" stroke="#2a2a2a" stroke-width="1.2" />
<line x1="844.2" y1="220.9" x2="862.2" y2="209.0" stroke="#333" stroke-width="0.7" />
<line x1="844.2" y1="116.3" x2="844.2" y2="343.3" stroke="#2a2a2a" stroke-width="0.9" />
<polygon points="873.8,116.0 929.3,116.0 929.3,343.0 873.8,343.0" fill="#929292" stroke="#333" stroke-width="1.0" stroke-linejoin="round" />
<polygon points="873.8,116.0 891.8,97.7 947.3,97.7 929.3,116.0" fill="#b2b0b0" stroke="#333" stroke-width="1.0" stroke-linejoin="round" />
<polygon points="929.3,116.0 947.3,97.7 947.3,324.7 929.3,343.0" fill="#707073" stroke="#333" stroke-width="1.1" stroke-linejoin="round" />
<polygon points="873.8,220.6 929.3,220.6 929.3,231.1 873.8,231.1" fill="#d6edf1" />
<line x1="873.8" y1="231.6" x2="929.3" y2="231.6" stroke="#2a2a2a" stroke-width="1.3" />
<line x1="873.8" y1="220.3" x2="929.3" y2="220.3" stroke="#555" stroke-width="0.6" />
<polygon points="929.3,220.6 947.3,208.7 947.3,217.9 929.3,231.1" fill="#d2eaee" />
<line x1="929.3" y1="231.6" x2="947.3" y2="218.4" stroke="#2a2a2a" stroke-width="1.2" />
<line x1="929.3" y1="220.6" x2="947.3" y2="208.7" stroke="#333" stroke-width="0.7" />
<line x1="929.3" y1="116.0" x2="929.3" y2="343.0" stroke="#2a2a2a" stroke-width="0.9" />
<line x1="688.5" y1="88.8" x2="688.5" y2="214.7" stroke="#a3c442" stroke-width="2.1" />
<line x1="772.6" y1="88.6" x2="772.6" y2="214.5" stroke="#a3c442" stroke-width="2.1" />
<line x1="856.7" y1="87.9" x2="856.7" y2="212.6" stroke="#a3c442" stroke-width="2.1" />
<line x1="941.8" y1="87.6" x2="941.8" y2="212.3" stroke="#a3c442" stroke-width="2.1" />
<polygon points="588.5,153.0 644.0,153.0 644.0,380.0 588.5,380.0" fill="#929292" stroke="#333" stroke-width="1.0" stroke-linejoin="round" />
<polygon points="588.5,153.0 606.5,134.7 662.0,134.7 644.0,153.0" fill="#b2b0b0" stroke="#333" stroke-width="1.0" stroke-linejoin="round" />
<polygon points="644.0,153.0 662.0,134.7 662.0,361.7 644.0,380.0" fill="#707073" stroke="#333" stroke-width="1.1" stroke-linejoin="round" />
<polygon points="588.5,257.6 644.0,257.6 644.0,268.1 588.5,268.1" fill="#d6edf1" />
<line x1="588.5" y1="268.6" x2="644.0" y2="268.6" stroke="#2a2a2a" stroke-width="1.3" />
<line x1="588.5" y1="257.3" x2="644.0" y2="257.3" stroke="#555" stroke-width="0.6" />
<polygon points="644.0,257.6 662.0,245.7 662.0,254.9 644.0,268.1" fill="#d2eaee" />
<line x1="644.0" y1="268.6" x2="662.0" y2="255.4" stroke="#2a2a2a" stroke-width="1.2" />
<line x1="644.0" y1="257.6" x2="662.0" y2="245.7" stroke="#333" stroke-width="0.7" />
<line x1="644.0" y1="153.0" x2="644.0" y2="380.0" stroke="#2a2a2a" stroke-width="0.9" />
<polygon points="672.7,153.0 728.2,153.0 728.2,380.0 672.7,380.0" fill="#929292" stroke="#333" stroke-width="1.0" stroke-linejoin="round" />
<polygon points="672.7,153.0 690.7,134.7 746.2,134.7 728.2,153.0" fill="#b2b0b0" stroke="#333" stroke-width="1.0" stroke-linejoin="round" />
<polygon points="728.2,153.0 746.2,134.7 746.2,361.7 728.2,380.0" fill="#707073" stroke="#333" stroke-width="1.1" stroke-linejoin="round" />
<polygon points="672.7,257.6 728.2,257.6 728.2,268.1 672.7,268.1" fill="#d6edf1" />
<line x1="672.7" y1="268.6" x2="728.2" y2="268.6" stroke="#2a2a2a" stroke-width="1.3" />
<line x1="672.7" y1="257.3" x2="728.2" y2="257.3" stroke="#555" stroke-width="0.6" />
<polygon points="728.2,257.6 746.2,245.7 746.2,254.9 728.2,268.1" fill="#d2eaee" />
<line x1="728.2" y1="268.6" x2="746.2" y2="255.4" stroke="#2a2a2a" stroke-width="1.2" />
<line x1="728.2" y1="257.6" x2="746.2" y2="245.7" stroke="#333" stroke-width="0.7" />
<line x1="728.2" y1="153.0" x2="728.2" y2="380.0" stroke="#2a2a2a" stroke-width="0.9" />
<polygon points="758.0,151.6 813.5,151.6 813.5,378.6 758.0,378.6" fill="#929292" stroke="#333" stroke-width="1.0" stroke-linejoin="round" />
<polygon points="758.0,151.6 776.0,133.3 831.5,133.3 813.5,151.6" fill="#b2b0b0" stroke="#333" stroke-width="1.0" stroke-linejoin="round" />
<polygon points="813.5,151.6 831.5,133.3 831.5,360.3 813.5,378.6" fill="#707073" stroke="#333" stroke-width="1.1" stroke-linejoin="round" />
<polygon points="758.0,256.2 813.5,256.2 813.5,266.7 758.0,266.7" fill="#d6edf1" />
<line x1="758.0" y1="267.2" x2="813.5" y2="267.2" stroke="#2a2a2a" stroke-width="1.3" />
<line x1="758.0" y1="255.9" x2="813.5" y2="255.9" stroke="#555" stroke-width="0.6" />
<polygon points="813.5,256.2 831.5,244.3 831.5,253.5 813.5,266.7" fill="#d2eaee" />
<line x1="813.5" y1="267.2" x2="831.5" y2="254.0" stroke="#2a2a2a" stroke-width="1.2" />
<line x1="813.5" y1="256.2" x2="831.5" y2="244.3" stroke="#333" stroke-width="0.7" />
<line x1="813.5" y1="151.6" x2="813.5" y2="378.6" stroke="#2a2a2a" stroke-width="0.9" />
<polygon points="841.6,151.6 897.1,151.6 897.1,378.6 841.6,378.6" fill="#929292" stroke="#333" stroke-width="1.0" stroke-linejoin="round" />
<polygon points="841.6,151.6 859.6,133.3 915.1,133.3 897.1,151.6" fill="#b2b0b0" stroke="#333" stroke-width="1.0" stroke-linejoin="round" />
<polygon points="897.1,151.6 915.1,133.3 915.1,360.3 897.1,378.6" fill="#707073" stroke="#333" stroke-width="1.1" stroke-linejoin="round" />
<polygon points="841.6,256.2 897.1,256.2 897.1,266.7 841.6,266.7" fill="#d6edf1" />
<line x1="841.6" y1="267.2" x2="897.1" y2="267.2" stroke="#2a2a2a" stroke-width="1.3" />
<line x1="841.6" y1="255.9" x2="897.1" y2="255.9" stroke="#555" stroke-width="0.6" />
<polygon points="897.1,256.2 915.1,244.3 915.1,253.5 897.1,266.7" fill="#d2eaee" />
<line x1="897.1" y1="267.2" x2="915.1" y2="254.0" stroke="#2a2a2a" stroke-width="1.2" />
<line x1="897.1" y1="256.2" x2="915.1" y2="244.3" stroke="#333" stroke-width="0.7" />
<line x1="897.1" y1="151.6" x2="897.1" y2="378.6" stroke="#2a2a2a" stroke-width="0.9" />
<line x1="656.5" y1="123.4" x2="656.5" y2="249.3" stroke="#a3c442" stroke-width="2.1" />
<line x1="740.7" y1="123.4" x2="740.7" y2="249.3" stroke="#a3c442" stroke-width="2.1" />
<line x1="826.0" y1="123.2" x2="826.0" y2="247.9" stroke="#a3c442" stroke-width="2.1" />
<line x1="909.6" y1="123.2" x2="909.6" y2="247.9" stroke="#a3c442" stroke-width="2.1" />
<polyline points="656.5,123.4 688.5,88.8 719.3,57.5 751.4,23.4" fill="none" stroke="#a9d425" stroke-width="2.8" stroke-linejoin="round" stroke-linecap="round" />
<polyline points="740.7,123.4 772.6,88.6 804.1,57.4 836.2,22.8" fill="none" stroke="#a9d425" stroke-width="2.8" stroke-linejoin="round" stroke-linecap="round" />
<polyline points="826.0,123.2 856.7,87.9 889.0,56.9 921.2,21.6" fill="none" stroke="#a9d425" stroke-width="2.8" stroke-linejoin="round" stroke-linecap="round" />
<polyline points="909.6,123.2 941.8,87.6 973.6,56.6 1005.3,21.6" fill="none" stroke="#a9d425" stroke-width="2.8" stroke-linejoin="round" stroke-linecap="round" />
<line x1="700.1" y1="77.5" x2="1100.5" y2="77.5" stroke="#a9d425" stroke-width="3.2" />
<line x1="1043.7" y1="78.0" x2="1043.7" y2="146.0" stroke="#aecb40" stroke-width="1.8" />
<line x1="1050.3" y1="78.0" x2="1050.3" y2="146.0" stroke="#aecb40" stroke-width="1.8" />
<line x1="1055.2" y1="78.0" x2="1055.2" y2="146.0" stroke="#aecb40" stroke-width="1.8" />
<line x1="1061.5" y1="78.0" x2="1061.5" y2="146.0" stroke="#aecb40" stroke-width="1.8" />
<line x1="1067.0" y1="78.0" x2="1067.0" y2="146.0" stroke="#aecb40" stroke-width="1.8" />
<line x1="1073.2" y1="78.0" x2="1073.2" y2="146.0" stroke="#aecb40" stroke-width="1.8" />
<line x1="1079.1" y1="78.0" x2="1079.1" y2="146.0" stroke="#aecb40" stroke-width="1.8" />
<line x1="1085.0" y1="78.0" x2="1085.0" y2="146.0" stroke="#aecb40" stroke-width="1.8" />
<polygon points="1032.8,146.0 1088.8,146.0 1088.8,254.9 1032.8,254.9" fill="#c6e3e5" stroke="#4a5a5a" stroke-width="1" stroke-linejoin="round" />
<polygon points="1032.8,146.0 1050.3,127.8 1106.2,127.8 1088.8,146.0" fill="#d3ebec" stroke="#4a5a5a" stroke-width="1" stroke-linejoin="round" />
<polygon points="1088.8,146.0 1106.2,127.8 1106.2,238.5 1088.8,254.9" fill="#a9cbce" stroke="#4a5a5a" stroke-width="1" stroke-linejoin="round" />
<line x1="1043.7" y1="128.0" x2="1043.7" y2="198.0" stroke="#b9d66a" stroke-width="1.5" />
<polyline points="1043.7,196.0 1043.7,212.5 1042.2,229.0" fill="none" stroke="#a8d236" stroke-width="0.9" stroke-linejoin="round" stroke-linecap="round" opacity="0.85"/>
<polyline points="1044.0,200.0 1045.2,212.5 1044.9,225.0" fill="none" stroke="#a8d236" stroke-width="0.9" stroke-linejoin="round" stroke-linecap="round" opacity="0.85"/>
<polyline points="1042.9,204.0 1042.9,212.5 1041.5,221.0" fill="none" stroke="#a8d236" stroke-width="0.9" stroke-linejoin="round" stroke-linecap="round" opacity="0.85"/>
<line x1="1050.3" y1="128.0" x2="1050.3" y2="198.0" stroke="#b9d66a" stroke-width="1.5" />
<polyline points="1050.3,196.0 1050.2,212.5 1048.8,229.0" fill="none" stroke="#a8d236" stroke-width="0.9" stroke-linejoin="round" stroke-linecap="round" opacity="0.85"/>
<polyline points="1050.6,200.0 1051.8,212.5 1051.5,225.0" fill="none" stroke="#a8d236" stroke-width="0.9" stroke-linejoin="round" stroke-linecap="round" opacity="0.85"/>
<polyline points="1049.5,204.0 1049.5,212.5 1048.1,221.0" fill="none" stroke="#a8d236" stroke-width="0.9" stroke-linejoin="round" stroke-linecap="round" opacity="0.85"/>
<line x1="1055.2" y1="128.0" x2="1055.2" y2="198.0" stroke="#b9d66a" stroke-width="1.5" />
<polyline points="1055.2,196.0 1055.2,212.5 1053.7,229.0" fill="none" stroke="#a8d236" stroke-width="0.9" stroke-linejoin="round" stroke-linecap="round" opacity="0.85"/>
<polyline points="1055.5,200.0 1056.7,212.5 1056.4,225.0" fill="none" stroke="#a8d236" stroke-width="0.9" stroke-linejoin="round" stroke-linecap="round" opacity="0.85"/>
<polyline points="1054.4,204.0 1054.4,212.5 1053.0,221.0" fill="none" stroke="#a8d236" stroke-width="0.9" stroke-linejoin="round" stroke-linecap="round" opacity="0.85"/>
<line x1="1061.5" y1="128.0" x2="1061.5" y2="198.0" stroke="#b9d66a" stroke-width="1.5" />
<polyline points="1061.5,196.0 1061.5,212.5 1060.0,229.0" fill="none" stroke="#a8d236" stroke-width="0.9" stroke-linejoin="round" stroke-linecap="round" opacity="0.85"/>
<polyline points="1061.8,200.0 1063.0,212.5 1062.7,225.0" fill="none" stroke="#a8d236" stroke-width="0.9" stroke-linejoin="round" stroke-linecap="round" opacity="0.85"/>
<polyline points="1060.7,204.0 1060.7,212.5 1059.3,221.0" fill="none" stroke="#a8d236" stroke-width="0.9" stroke-linejoin="round" stroke-linecap="round" opacity="0.85"/>
<line x1="1067.0" y1="128.0" x2="1067.0" y2="198.0" stroke="#b9d66a" stroke-width="1.5" />
<polyline points="1067.0,196.0 1067.0,212.5 1065.5,229.0" fill="none" stroke="#a8d236" stroke-width="0.9" stroke-linejoin="round" stroke-linecap="round" opacity="0.85"/>
<polyline points="1067.3,200.0 1068.5,212.5 1068.2,225.0" fill="none" stroke="#a8d236" stroke-width="0.9" stroke-linejoin="round" stroke-linecap="round" opacity="0.85"/>
<polyline points="1066.2,204.0 1066.2,212.5 1064.8,221.0" fill="none" stroke="#a8d236" stroke-width="0.9" stroke-linejoin="round" stroke-linecap="round" opacity="0.85"/>
<line x1="1073.2" y1="128.0" x2="1073.2" y2="198.0" stroke="#b9d66a" stroke-width="1.5" />
<polyline points="1073.2,196.0 1073.2,212.5 1071.7,229.0" fill="none" stroke="#a8d236" stroke-width="0.9" stroke-linejoin="round" stroke-linecap="round" opacity="0.85"/>
<polyline points="1073.5,200.0 1074.7,212.5 1074.4,225.0" fill="none" stroke="#a8d236" stroke-width="0.9" stroke-linejoin="round" stroke-linecap="round" opacity="0.85"/>
<polyline points="1072.4,204.0 1072.4,212.5 1071.0,221.0" fill="none" stroke="#a8d236" stroke-width="0.9" stroke-linejoin="round" stroke-linecap="round" opacity="0.85"/>
<line x1="1079.1" y1="128.0" x2="1079.1" y2="198.0" stroke="#b9d66a" stroke-width="1.5" />
<polyline points="1079.1,196.0 1079.0,212.5 1077.6,229.0" fill="none" stroke="#a8d236" stroke-width="0.9" stroke-linejoin="round" stroke-linecap="round" opacity="0.85"/>
<polyline points="1079.4,200.0 1080.5,212.5 1080.3,225.0" fill="none" stroke="#a8d236" stroke-width="0.9" stroke-linejoin="round" stroke-linecap="round" opacity="0.85"/>
<polyline points="1078.3,204.0 1078.3,212.5 1076.9,221.0" fill="none" stroke="#a8d236" stroke-width="0.9" stroke-linejoin="round" stroke-linecap="round" opacity="0.85"/>
<line x1="1085.0" y1="128.0" x2="1085.0" y2="198.0" stroke="#b9d66a" stroke-width="1.5" />
<polyline points="1085.0,196.0 1085.0,212.5 1083.5,229.0" fill="none" stroke="#a8d236" stroke-width="0.9" stroke-linejoin="round" stroke-linecap="round" opacity="0.85"/>
<polyline points="1085.3,200.0 1086.5,212.5 1086.2,225.0" fill="none" stroke="#a8d236" stroke-width="0.9" stroke-linejoin="round" stroke-linecap="round" opacity="0.85"/>
<polyline points="1084.2,204.0 1084.2,212.5 1082.8,221.0" fill="none" stroke="#a8d236" stroke-width="0.9" stroke-linejoin="round" stroke-linecap="round" opacity="0.85"/>
<line x1="1053.4" y1="260.1" x2="1049.7" y2="287.8" stroke="#1f63b3" stroke-width="2.6" />
<polygon points="1056.1,239.3 1044.9,263.0 1053.4,260.1 1060.8,265.1" fill="#1f63b3" />
<line x1="922.9" y1="378.8" x2="944.7" y2="384.4" stroke="#1f63b3" stroke-width="2.6" />
<polygon points="903.5,373.8 924.7,387.5 922.9,378.8 928.7,372.0" fill="#1f63b3" />
<line x1="947.7" y1="344.3" x2="966.7" y2="370.7" stroke="#1f63b3" stroke-width="2.6" />
<polygon points="936.1,328.0 943.6,352.2 947.7,344.3 956.6,342.8" fill="#1f63b3" />
<line x1="972.1" y1="315.2" x2="980.3" y2="370.7" stroke="#1f63b3" stroke-width="2.6" />
<polygon points="969.2,295.4 964.8,320.3 972.1,315.2 980.6,318.0" fill="#1f63b3" />
<text x="70" y="384.6" font-family="Liberation Sans, sans-serif" font-size="25.5" fill="#0a0a0a" stroke="#0a0a0a" stroke-width="0.45" textLength="188.6" lengthAdjust="spacingAndGlyphs">Network switch</text>
<text x="426.4" y="619.7" font-family="Liberation Sans, sans-serif" font-size="25.5" fill="#0a0a0a" stroke="#0a0a0a" stroke-width="0.45" textLength="55.7" lengthAdjust="spacingAndGlyphs">Rack</text>
<text x="1017.8" y="310" font-family="Liberation Sans, sans-serif" font-size="25.5" fill="#0a0a0a" stroke="#0a0a0a" stroke-width="0.45" textLength="173.6" lengthAdjust="spacingAndGlyphs">Cluster Switch</text>
<text x="952.2" y="397.9" font-family="Liberation Sans, sans-serif" font-size="25.5" fill="#0a0a0a" stroke="#0a0a0a" stroke-width="0.45" textLength="153" lengthAdjust="spacingAndGlyphs">Server Racks</text>
</g>
</svg>
</body></html>
